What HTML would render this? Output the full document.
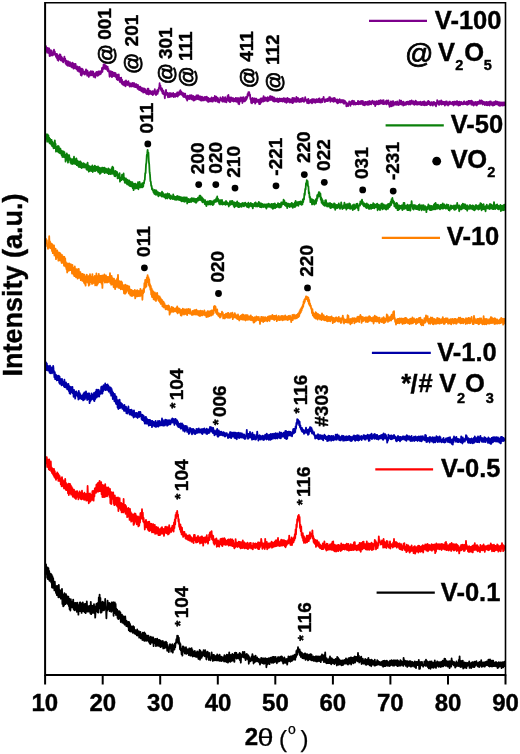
<!DOCTYPE html>
<html><head><meta charset="utf-8"><style>
html,body{margin:0;padding:0;background:#fff;}
svg{display:block;filter:blur(0.35px);}
text{stroke:#000;stroke-width:0.4px;}
text[font-weight=normal]{stroke-width:0.25px;}
text.at{stroke-width:0.75px;}
</style></head><body>
<svg width="520" height="754" viewBox="0 0 520 754" font-family="Liberation Sans, sans-serif">
<rect width="520" height="754" fill="#fff"/>
<polyline points="45.60,50.6 46.00,46.2 46.40,51.5 46.80,48.8 47.20,52.8 47.60,48.0 48.00,52.1 48.40,48.3 48.80,53.3 49.20,48.5 49.60,56.0 50.00,51.4 50.40,55.8 50.80,50.2 51.20,54.5 51.60,50.6 52.00,55.5 52.40,52.1 52.80,55.4 53.20,52.1 53.60,53.5 54.00,49.7 54.40,54.6 54.80,51.5 55.20,54.8 55.60,54.5 56.00,56.9 56.40,53.8 56.80,58.1 57.20,54.2 57.60,59.9 58.00,55.6 58.40,60.8 58.80,55.8 59.20,59.3 59.60,54.5 60.00,56.9 60.40,54.6 60.80,60.4 61.20,56.4 61.60,60.0 62.00,57.5 62.40,61.3 62.80,58.7 63.20,62.4 63.60,58.6 64.00,60.0 64.40,56.6 64.80,61.0 65.20,58.7 65.60,63.6 66.00,60.5 66.40,64.7 66.80,60.8 67.20,65.3 67.60,61.7 68.00,65.8 68.40,61.5 68.80,64.8 69.20,62.3 69.60,66.1 70.00,62.2 70.40,65.8 70.80,63.4 71.20,66.8 71.60,63.4 72.00,67.5 72.40,62.7 72.80,66.0 73.20,63.4 73.60,68.7 74.00,64.2 74.40,67.3 74.80,63.8 75.20,68.5 75.60,64.0 76.00,68.4 76.40,66.3 76.80,69.4 77.20,66.5 77.60,70.9 78.00,66.8 78.40,69.7 78.80,68.1 79.20,71.8 79.60,67.0 80.00,71.1 80.40,68.1 80.80,75.0 81.20,70.8 81.60,75.7 82.00,68.7 82.40,72.9 82.80,69.3 83.20,73.9 83.60,71.3 84.00,73.4 84.40,71.7 84.80,74.5 85.20,71.7 85.60,73.1 86.00,69.4 86.40,74.0 86.80,70.2 87.20,75.6 87.60,71.0 88.00,74.7 88.40,73.0 88.80,77.0 89.20,72.3 89.60,75.5 90.00,71.9 90.40,75.4 90.80,71.1 91.20,75.4 91.60,71.6 92.00,75.0 92.40,71.5 92.80,75.1 93.20,71.7 93.60,76.9 94.00,73.3 94.40,76.6 94.80,74.6 95.20,77.7 95.60,72.9 96.00,75.1 96.40,72.0 96.80,75.5 97.20,72.6 97.60,75.8 98.00,71.7 98.40,75.3 98.80,71.4 99.20,74.7 99.60,71.5 100.00,74.3 100.40,71.5 100.80,73.9 101.20,70.8 101.60,72.5 102.00,68.0 102.40,71.9 102.80,67.5 103.20,68.8 103.60,64.4 104.00,68.8 104.40,64.4 104.80,68.2 105.20,65.1 105.60,69.0 106.00,65.6 106.40,68.6 106.80,66.9 107.20,70.2 107.60,66.7 108.00,71.3 108.40,68.9 108.80,71.6 109.20,72.0 109.60,76.8 110.00,71.2 110.40,74.7 110.80,71.4 111.20,76.2 111.60,71.7 112.00,77.1 112.40,72.0 112.80,75.3 113.20,72.7 113.60,76.1 114.00,72.7 114.40,76.3 114.80,72.9 115.20,75.9 115.60,73.2 116.00,77.3 116.40,75.4 116.80,79.3 117.20,74.7 117.60,80.0 118.00,76.0 118.40,79.2 118.80,74.5 119.20,80.5 119.60,79.4 120.00,82.0 120.40,77.8 120.80,80.8 121.20,77.7 121.60,83.3 122.00,79.6 122.40,84.5 122.80,82.1 123.20,84.4 123.60,81.9 124.00,85.4 124.40,81.3 124.80,85.5 125.20,82.3 125.60,86.3 126.00,80.4 126.40,84.6 126.80,81.6 127.20,85.0 127.60,82.3 128.00,84.9 128.40,81.2 128.80,85.2 129.20,83.0 129.60,86.7 130.00,83.4 130.40,86.4 130.80,83.4 131.20,86.5 131.60,83.9 132.00,86.0 132.40,83.0 132.80,86.3 133.20,83.5 133.60,86.5 134.00,83.0 134.40,86.9 134.80,84.1 135.20,87.2 135.60,84.5 136.00,87.2 136.40,84.2 136.80,87.3 137.20,85.4 137.60,88.8 138.00,85.0 138.40,88.8 138.80,87.3 139.20,90.2 139.60,86.6 140.00,89.6 140.40,86.7 140.80,90.6 141.20,88.6 141.60,91.3 142.00,87.9 142.40,91.2 142.80,89.2 143.20,92.6 143.60,88.5 144.00,90.8 144.40,88.6 144.80,92.3 145.20,89.2 145.60,92.8 146.00,90.3 146.40,93.8 146.80,90.8 147.20,94.2 147.60,88.7 148.00,91.3 148.40,88.6 148.80,94.5 149.20,90.8 149.60,93.8 150.00,90.6 150.40,93.2 150.80,91.4 151.20,94.2 151.60,92.0 152.00,94.4 152.40,91.2 152.80,95.2 153.20,91.9 153.60,94.1 154.00,90.9 154.40,92.9 154.80,89.1 155.20,93.9 155.60,91.5 156.00,95.1 156.40,91.3 156.80,93.2 157.20,90.2 157.60,93.9 158.00,89.8 158.40,91.7 158.80,87.8 159.20,88.5 159.60,83.2 160.00,88.2 160.40,85.3 160.80,89.8 161.20,88.0 161.60,91.2 162.00,88.4 162.40,93.3 162.80,90.1 163.20,94.2 163.60,90.9 164.00,94.1 164.40,93.3 164.80,98.3 165.20,94.1 165.60,94.6 166.00,89.8 166.40,93.1 166.80,92.6 167.20,95.5 167.60,92.9 168.00,97.3 168.40,93.4 168.80,96.9 169.20,93.4 169.60,97.1 170.00,92.8 170.40,96.6 170.80,94.2 171.20,96.7 171.60,93.5 172.00,96.0 172.40,93.8 172.80,96.0 173.20,93.0 173.60,97.2 174.00,94.6 174.40,96.7 174.80,94.0 175.20,96.8 175.60,94.2 176.00,96.0 176.40,93.4 176.80,96.0 177.20,92.3 177.60,96.7 178.00,92.5 178.40,95.6 178.80,92.5 179.20,94.9 179.60,91.2 180.00,94.5 180.40,90.1 180.80,93.2 181.20,91.7 181.60,94.7 182.00,92.4 182.40,95.4 182.80,93.5 183.20,96.7 183.60,93.2 184.00,97.1 184.40,94.2 184.80,96.8 185.20,93.7 185.60,97.7 186.00,96.0 186.40,99.0 186.80,96.9 187.20,100.7 187.60,95.7 188.00,99.2 188.40,96.2 188.80,98.9 189.20,95.8 189.60,99.2 190.00,95.2 190.40,98.7 190.80,95.8 191.20,99.0 191.60,95.1 192.00,99.5 192.40,96.8 192.80,99.6 193.20,95.9 193.60,100.7 194.00,97.2 194.40,100.3 194.80,96.7 195.20,99.6 195.60,96.8 196.00,99.5 196.40,95.3 196.80,98.7 197.20,95.7 197.60,99.2 198.00,95.1 198.40,99.4 198.80,96.0 199.20,99.3 199.60,96.9 200.00,100.0 200.40,96.5 200.80,100.5 201.20,97.4 201.60,100.7 202.00,96.7 202.40,100.4 202.80,97.3 203.20,100.3 203.60,98.3 204.00,100.4 204.40,97.2 204.80,99.9 205.20,96.9 205.60,99.7 206.00,97.9 206.40,100.6 206.80,96.7 207.20,100.0 207.60,97.8 208.00,101.9 208.40,97.9 208.80,101.9 209.20,98.8 209.60,100.0 210.00,98.7 210.40,101.4 210.80,98.5 211.20,100.6 211.60,97.4 212.00,101.6 212.40,98.5 212.80,101.7 213.20,97.8 213.60,100.6 214.00,97.7 214.40,99.2 214.80,96.0 215.20,101.3 215.60,98.3 216.00,100.1 216.40,96.6 216.80,101.0 217.20,97.6 217.60,101.8 218.00,98.1 218.40,102.0 218.80,99.4 219.20,102.6 219.60,100.0 220.00,100.6 220.40,97.3 220.80,99.5 221.20,98.8 221.60,100.7 222.00,98.5 222.40,101.7 222.80,96.9 223.20,101.6 223.60,98.0 224.00,101.0 224.40,98.2 224.80,101.9 225.20,97.2 225.60,101.8 226.00,99.4 226.40,102.3 226.80,98.4 227.20,100.6 227.60,95.9 228.00,98.9 228.40,94.8 228.80,101.0 229.20,97.1 229.60,102.0 230.00,98.2 230.40,102.0 230.80,97.3 231.20,100.5 231.60,97.6 232.00,100.9 232.40,98.2 232.80,101.0 233.20,98.2 233.60,101.5 234.00,98.9 234.40,101.2 234.80,99.0 235.20,101.4 235.60,98.0 236.00,101.4 236.40,98.2 236.80,101.9 237.20,98.7 237.60,101.3 238.00,98.0 238.40,103.6 238.80,99.6 239.20,104.3 239.60,98.5 240.00,101.7 240.40,97.3 240.80,100.8 241.20,98.3 241.60,100.0 242.00,97.5 242.40,103.0 242.80,98.4 243.20,99.8 243.60,97.1 244.00,101.3 244.40,99.4 244.80,101.4 245.20,98.2 245.60,100.5 246.00,96.8 246.40,99.7 246.80,97.4 247.20,97.9 247.60,94.0 248.00,95.8 248.40,92.1 248.80,95.4 249.20,92.1 249.60,95.3 250.00,94.5 250.40,99.2 250.80,98.5 251.20,102.9 251.60,101.2 252.00,103.4 252.40,98.0 252.80,101.6 253.20,98.9 253.60,102.1 254.00,98.3 254.40,100.8 254.80,98.4 255.20,103.7 255.60,100.0 256.00,102.4 256.40,98.6 256.80,101.5 257.20,100.5 257.60,101.6 258.00,99.9 258.40,102.3 258.80,99.6 259.20,104.1 259.60,101.7 260.00,104.1 260.40,98.7 260.80,102.9 261.20,98.5 261.60,102.0 262.00,98.3 262.40,101.2 262.80,98.2 263.20,101.6 263.60,96.1 264.00,99.7 264.40,98.9 264.80,101.2 265.20,97.3 265.60,100.0 266.00,98.0 266.40,100.1 266.80,98.7 267.20,101.3 267.60,97.1 268.00,101.2 268.40,97.8 268.80,100.7 269.20,97.3 269.60,99.3 270.00,96.2 270.40,100.0 270.80,96.1 271.20,99.4 271.60,96.9 272.00,100.1 272.40,96.6 272.80,100.9 273.20,99.2 273.60,101.3 274.00,97.4 274.40,101.7 274.80,98.1 275.20,101.3 275.60,99.5 276.00,100.4 276.40,99.3 276.80,101.4 277.20,98.3 277.60,101.9 278.00,98.9 278.40,102.1 278.80,99.0 279.20,101.4 279.60,98.5 280.00,101.3 280.40,100.2 280.80,101.1 281.20,98.7 281.60,100.5 282.00,99.2 282.40,101.6 282.80,98.7 283.20,99.9 283.60,98.1 284.00,101.5 284.40,98.3 284.80,102.0 285.20,99.7 285.60,101.2 286.00,98.5 286.40,102.8 286.80,98.8 287.20,102.0 287.60,98.0 288.00,101.8 288.40,99.2 288.80,100.9 289.20,98.9 289.60,102.5 290.00,99.3 290.40,101.4 290.80,99.4 291.20,102.7 291.60,99.4 292.00,101.1 292.40,97.9 292.80,103.2 293.20,99.6 293.60,102.0 294.00,98.0 294.40,101.0 294.80,100.0 295.20,101.8 295.60,98.3 296.00,101.1 296.40,97.0 296.80,102.0 297.20,98.4 297.60,101.2 298.00,97.8 298.40,100.5 298.80,99.0 299.20,102.2 299.60,99.3 300.00,101.3 300.40,99.0 300.80,101.8 301.20,98.7 301.60,101.6 302.00,98.3 302.40,101.2 302.80,97.8 303.20,100.7 303.60,100.7 304.00,101.9 304.40,101.1 304.80,100.1 305.20,97.1 305.60,100.6 306.00,99.4 306.40,101.1 306.80,100.8 307.20,103.1 307.60,99.3 308.00,100.9 308.40,99.0 308.80,103.3 309.20,101.1 309.60,102.7 310.00,100.5 310.40,102.4 310.80,99.9 311.20,101.1 311.60,99.5 312.00,103.3 312.40,99.2 312.80,102.6 313.20,99.4 313.60,101.0 314.00,99.2 314.40,102.2 314.80,100.6 315.20,102.8 315.60,99.7 316.00,102.3 316.40,99.2 316.80,101.9 317.20,99.4 317.60,102.0 318.00,99.3 318.40,101.6 318.80,98.7 319.20,102.3 319.60,98.5 320.00,101.7 320.40,99.7 320.80,102.7 321.20,100.7 321.60,101.6 322.00,98.9 322.40,102.2 322.80,98.7 323.20,99.7 323.60,96.9 324.00,99.4 324.40,99.7 324.80,102.0 325.20,100.3 325.60,101.4 326.00,99.2 326.40,100.5 326.80,100.0 327.20,101.2 327.60,98.6 328.00,101.0 328.40,99.1 328.80,99.9 329.20,97.2 329.60,100.3 330.00,97.2 330.40,101.9 330.80,98.3 331.20,100.9 331.60,98.5 332.00,100.9 332.40,98.7 332.80,101.4 333.20,98.4 333.60,101.9 334.00,97.8 334.40,101.4 334.80,98.2 335.20,101.2 335.60,99.3 336.00,101.5 336.40,99.9 336.80,102.7 337.20,99.3 337.60,103.3 338.00,100.1 338.40,102.8 338.80,100.0 339.20,101.8 339.60,99.2 340.00,102.3 340.40,100.1 340.80,102.6 341.20,100.5 341.60,102.2 342.00,100.0 342.40,102.2 342.80,100.3 343.20,103.2 343.60,100.1 344.00,103.8 344.40,100.6 344.80,102.9 345.20,101.2 345.60,103.1 346.00,102.4 346.40,106.3 346.80,102.9 347.20,103.9 347.60,103.5 348.00,106.2 348.40,104.2 348.80,104.4 349.20,101.4 349.60,104.0 350.00,103.3 350.40,105.9 350.80,101.8 351.20,103.7 351.60,101.1 352.00,104.2 352.40,100.6 352.80,103.5 353.20,102.5 353.60,104.6 354.00,101.0 354.40,104.0 354.80,102.6 355.20,104.5 355.60,102.7 356.00,104.4 356.40,102.8 356.80,104.2 357.20,102.7 357.60,104.0 358.00,100.8 358.40,104.3 358.80,101.3 359.20,104.1 359.60,102.3 360.00,103.9 360.40,101.3 360.80,104.2 361.20,100.8 361.60,103.6 362.00,101.6 362.40,104.1 362.80,100.8 363.20,105.2 363.60,101.9 364.00,104.0 364.40,102.8 364.80,105.4 365.20,102.0 365.60,104.4 366.00,102.0 366.40,103.2 366.80,102.7 367.20,104.9 367.60,101.7 368.00,104.7 368.40,102.6 368.80,104.9 369.20,101.0 369.60,104.0 370.00,101.8 370.40,104.2 370.80,101.5 371.20,104.4 371.60,101.8 372.00,102.6 372.40,100.6 372.80,102.9 373.20,101.7 373.60,104.2 374.00,101.3 374.40,104.0 374.80,101.7 375.20,106.2 375.60,103.1 376.00,104.1 376.40,101.1 376.80,104.4 377.20,101.4 377.60,104.2 378.00,102.0 378.40,104.3 378.80,100.6 379.20,104.2 379.60,102.0 380.00,103.9 380.40,100.1 380.80,102.2 381.20,101.2 381.60,103.3 382.00,100.5 382.40,103.8 382.80,100.7 383.20,104.1 383.60,100.2 384.00,104.2 384.40,101.8 384.80,103.8 385.20,102.2 385.60,103.7 386.00,100.8 386.40,104.3 386.80,100.5 387.20,103.7 387.60,101.0 388.00,103.7 388.40,100.3 388.80,104.7 389.20,102.7 389.60,106.8 390.00,102.8 390.40,104.0 390.80,101.5 391.20,106.3 391.60,103.2 392.00,106.1 392.40,101.4 392.80,104.8 393.20,101.2 393.60,105.5 394.00,102.8 394.40,104.1 394.80,102.5 395.20,104.6 395.60,101.8 396.00,104.7 396.40,102.4 396.80,104.9 397.20,101.3 397.60,104.2 398.00,102.4 398.40,105.1 398.80,102.2 399.20,104.7 399.60,100.2 400.00,104.3 400.40,101.5 400.80,104.1 401.20,100.6 401.60,104.6 402.00,102.0 402.40,104.4 402.80,101.9 403.20,105.6 403.60,101.7 404.00,104.5 404.40,103.1 404.80,105.2 405.20,102.9 405.60,104.5 406.00,102.2 406.40,104.6 406.80,101.8 407.20,104.0 407.60,101.6 408.00,103.0 408.40,102.5 408.80,104.6 409.20,101.5 409.60,103.8 410.00,101.0 410.40,104.5 410.80,101.5 411.20,103.5 411.60,100.4 412.00,103.9 412.40,101.9 412.80,103.7 413.20,101.1 413.60,104.4 414.00,101.7 414.40,104.8 414.80,102.2 415.20,104.2 415.60,100.7 416.00,104.4 416.40,101.3 416.80,104.7 417.20,102.3 417.60,104.6 418.00,102.1 418.40,104.4 418.80,102.2 419.20,104.1 419.60,102.5 420.00,104.5 420.40,101.6 420.80,104.9 421.20,102.9 421.60,105.1 422.00,102.1 422.40,103.7 422.80,101.9 423.20,105.0 423.60,101.7 424.00,104.9 424.40,101.5 424.80,105.4 425.20,102.2 425.60,103.8 426.00,102.7 426.40,105.1 426.80,102.3 427.20,104.9 427.60,101.3 428.00,104.2 428.40,100.8 428.80,104.0 429.20,101.6 429.60,104.6 430.00,102.8 430.40,105.3 430.80,102.3 431.20,104.9 431.60,102.2 432.00,104.3 432.40,103.3 432.80,105.7 433.20,102.2 433.60,104.3 434.00,102.0 434.40,104.3 434.80,102.7 435.20,105.0 435.60,102.9 436.00,106.3 436.40,103.2 436.80,103.5 437.20,100.2 437.60,102.0 438.00,102.1 438.40,104.7 438.80,101.4 439.20,104.8 439.60,101.1 440.00,104.1 440.40,102.0 440.80,103.7 441.20,100.3 441.60,104.7 442.00,101.4 442.40,104.1 442.80,101.7 443.20,104.2 443.60,102.0 444.00,103.3 444.40,101.9 444.80,105.7 445.20,103.0 445.60,104.7 446.00,101.4 446.40,104.5 446.80,101.5 447.20,103.4 447.60,102.6 448.00,105.5 448.40,102.8 448.80,104.7 449.20,101.6 449.60,104.4 450.00,101.6 450.40,103.9 450.80,102.9 451.20,103.8 451.60,102.7 452.00,104.4 452.40,101.8 452.80,104.5 453.20,102.1 453.60,105.5 454.00,101.7 454.40,104.5 454.80,101.7 455.20,104.4 455.60,102.2 456.00,104.6 456.40,101.4 456.80,104.7 457.20,101.2 457.60,104.3 458.00,102.5 458.40,105.6 458.80,101.9 459.20,104.8 459.60,101.6 460.00,105.4 460.40,102.5 460.80,104.3 461.20,102.0 461.60,104.2 462.00,102.9 462.40,104.3 462.80,102.9 463.20,104.4 463.60,101.6 464.00,103.7 464.40,101.5 464.80,104.1 465.20,102.4 465.60,104.2 466.00,102.6 466.40,104.3 466.80,101.7 467.20,104.9 467.60,103.0 468.00,104.2 468.40,101.0 468.80,104.3 469.20,101.2 469.60,103.2 470.00,100.9 470.40,103.1 470.80,101.2 471.20,104.6 471.60,100.7 472.00,104.8 472.40,101.3 472.80,104.3 473.20,102.5 473.60,105.6 474.00,102.2 474.40,104.6 474.80,102.8 475.20,104.8 475.60,101.9 476.00,104.6 476.40,102.4 476.80,105.5 477.20,101.9 477.60,104.4 478.00,102.1 478.40,103.8 478.80,101.7 479.20,103.6 479.60,100.5 480.00,103.9 480.40,102.5 480.80,103.3 481.20,100.3 481.60,101.5 482.00,100.7 482.40,104.5 482.80,101.5 483.20,103.4 483.60,101.8 484.00,104.4 484.40,102.1 484.80,105.1 485.20,102.4 485.60,104.6 486.00,102.1 486.40,105.0 486.80,102.0 487.20,105.3 487.60,102.3 488.00,105.0 488.40,102.2 488.80,104.5 489.20,101.8 489.60,105.6 490.00,101.4 490.40,104.4 490.80,101.3 491.20,104.4 491.60,102.4 492.00,105.1 492.40,102.3 492.80,105.6 493.20,102.7 493.60,105.3 494.00,102.0 494.40,105.1 494.80,101.9 495.20,104.1 495.60,101.2 496.00,104.5 496.40,101.6 496.80,104.2 497.20,101.7 497.60,104.0 498.00,102.1 498.40,105.3 498.80,102.2 499.20,105.3 499.60,102.4 500.00,106.0 500.40,102.6 500.80,104.3 501.20,102.3 501.60,105.3 502.00,103.0 502.40,105.5 502.80,102.4 503.20,105.4 503.60,102.7 504.00,105.3 504.40,102.4 504.80,106.0" fill="none" stroke="#7d008c" stroke-width="1.8" stroke-linejoin="round"/>
<polyline points="45.60,137.2 46.00,134.2 46.40,138.8 46.80,137.2 47.20,141.8 47.60,134.4 48.00,140.4 48.40,135.4 48.80,141.8 49.20,137.7 49.60,143.3 50.00,138.7 50.40,143.1 50.80,139.7 51.20,144.6 51.60,140.0 52.00,145.9 52.40,141.6 52.80,146.7 53.20,143.3 53.60,148.4 54.00,143.0 54.40,148.2 54.80,140.3 55.20,145.2 55.60,143.8 56.00,151.7 56.40,146.6 56.80,148.7 57.20,147.1 57.60,151.3 58.00,145.9 58.40,152.2 58.80,146.5 59.20,152.8 59.60,148.1 60.00,153.3 60.40,148.6 60.80,153.5 61.20,150.4 61.60,155.3 62.00,150.8 62.40,157.0 62.80,154.0 63.20,155.9 63.60,151.5 64.00,157.2 64.40,152.1 64.80,156.3 65.20,154.6 65.60,161.6 66.00,157.5 66.40,159.2 66.80,153.4 67.20,159.8 67.60,154.7 68.00,162.6 68.40,156.0 68.80,158.4 69.20,155.2 69.60,160.0 70.00,158.1 70.40,162.7 70.80,158.6 71.20,163.8 71.60,159.3 72.00,161.7 72.40,160.6 72.80,164.1 73.20,158.7 73.60,162.4 74.00,156.7 74.40,163.1 74.80,158.9 75.20,164.2 75.60,160.6 76.00,163.8 76.40,158.5 76.80,165.2 77.20,160.3 77.60,165.0 78.00,161.7 78.40,166.5 78.80,161.5 79.20,167.1 79.60,163.1 80.00,165.2 80.40,161.4 80.80,167.3 81.20,162.5 81.60,168.0 82.00,163.3 82.40,167.5 82.80,163.6 83.20,167.4 83.60,163.2 84.00,167.3 84.40,163.8 84.80,167.5 85.20,164.6 85.60,167.1 86.00,164.5 86.40,169.3 86.80,164.1 87.20,169.9 87.60,162.7 88.00,169.7 88.40,165.5 88.80,171.6 89.20,166.2 89.60,171.0 90.00,166.3 90.40,170.5 90.80,167.8 91.20,171.1 91.60,166.3 92.00,169.8 92.40,165.3 92.80,172.0 93.20,166.8 93.60,170.7 94.00,166.7 94.40,170.8 94.80,165.7 95.20,171.2 95.60,166.5 96.00,170.3 96.40,167.0 96.80,169.9 97.20,167.5 97.60,171.2 98.00,166.4 98.40,172.4 98.80,167.6 99.20,172.1 99.60,167.6 100.00,173.9 100.40,168.1 100.80,173.2 101.20,168.9 101.60,171.6 102.00,167.7 102.40,172.0 102.80,167.7 103.20,171.1 103.60,167.9 104.00,172.5 104.40,167.7 104.80,173.2 105.20,168.3 105.60,172.2 106.00,168.6 106.40,172.4 106.80,169.2 107.20,173.1 107.60,169.1 108.00,173.4 108.40,168.4 108.80,174.1 109.20,169.2 109.60,172.8 110.00,170.1 110.40,174.1 110.80,169.8 111.20,173.0 111.60,168.2 112.00,173.9 112.40,166.7 112.80,172.3 113.20,167.5 113.60,173.9 114.00,171.0 114.40,176.0 114.80,171.9 115.20,176.4 115.60,170.8 116.00,174.4 116.40,172.0 116.80,175.7 117.20,172.2 117.60,178.4 118.00,174.9 118.40,177.7 118.80,174.1 119.20,178.3 119.60,173.2 120.00,181.6 120.40,177.5 120.80,180.3 121.20,177.4 121.60,180.2 122.00,174.7 122.40,179.0 122.80,175.0 123.20,179.2 123.60,173.5 124.00,180.3 124.40,177.7 124.80,182.8 125.20,179.3 125.60,182.5 126.00,178.5 126.40,183.5 126.80,179.5 127.20,184.5 127.60,179.8 128.00,183.2 128.40,182.6 128.80,185.0 129.20,180.3 129.60,185.9 130.00,181.7 130.40,186.2 130.80,181.6 131.20,186.5 131.60,182.3 132.00,186.1 132.40,182.2 132.80,188.1 133.20,184.7 133.60,190.1 134.00,183.6 134.40,187.9 134.80,185.7 135.20,188.6 135.60,183.6 136.00,187.3 136.40,185.3 136.80,188.3 137.20,184.4 137.60,187.6 138.00,182.2 138.40,189.3 138.80,183.5 139.20,187.7 139.60,181.9 140.00,184.3 140.40,184.2 140.80,187.5 141.20,185.1 141.60,186.5 142.00,183.5 142.40,187.3 142.80,183.1 143.20,186.6 143.60,182.6 144.00,183.5 144.40,180.4 144.80,179.8 145.20,173.2 145.60,173.1 146.00,164.6 146.40,162.5 146.80,155.1 147.20,153.7 147.60,149.8 148.00,154.2 148.40,152.6 148.80,161.1 149.20,164.3 149.60,172.2 150.00,174.6 150.40,181.1 150.80,181.7 151.20,186.0 151.60,185.8 152.00,189.4 152.40,188.5 152.80,190.7 153.20,190.0 153.60,192.6 154.00,190.3 154.40,193.8 154.80,189.9 155.20,194.3 155.60,191.1 156.00,194.9 156.40,190.3 156.80,193.7 157.20,191.8 157.60,194.8 158.00,192.2 158.40,196.3 158.80,194.1 159.20,195.5 159.60,193.0 160.00,195.0 160.40,193.7 160.80,195.5 161.20,192.9 161.60,196.5 162.00,191.7 162.40,196.1 162.80,192.7 163.20,196.9 163.60,193.9 164.00,196.7 164.40,195.7 164.80,197.3 165.20,194.3 165.60,198.5 166.00,194.1 166.40,197.8 166.80,195.0 167.20,198.5 167.60,193.5 168.00,197.4 168.40,194.8 168.80,197.4 169.20,194.0 169.60,198.4 170.00,195.6 170.40,199.0 170.80,195.4 171.20,198.5 171.60,196.3 172.00,198.1 172.40,196.8 172.80,199.1 173.20,194.5 173.60,198.1 174.00,196.2 174.40,199.5 174.80,196.8 175.20,199.4 175.60,196.8 176.00,200.0 176.40,196.7 176.80,199.5 177.20,196.0 177.60,199.5 178.00,197.8 178.40,199.6 178.80,196.3 179.20,200.1 179.60,196.8 180.00,199.4 180.40,197.1 180.80,200.7 181.20,197.3 181.60,201.4 182.00,197.5 182.40,199.9 182.80,198.4 183.20,201.3 183.60,197.5 184.00,201.3 184.40,197.4 184.80,201.9 185.20,197.3 185.60,201.0 186.00,198.1 186.40,200.3 186.80,197.3 187.20,203.5 187.60,199.0 188.00,202.1 188.40,198.8 188.80,202.0 189.20,199.6 189.60,202.0 190.00,199.2 190.40,201.9 190.80,199.0 191.20,202.0 191.60,198.1 192.00,201.3 192.40,198.3 192.80,199.2 193.20,198.5 193.60,201.4 194.00,198.4 194.40,201.9 194.80,199.6 195.20,201.9 195.60,198.8 196.00,202.8 196.40,198.8 196.80,201.8 197.20,198.7 197.60,200.6 198.00,197.6 198.40,200.5 198.80,197.4 199.20,198.9 199.60,195.7 200.00,200.1 200.40,195.6 200.80,199.5 201.20,196.9 201.60,200.9 202.00,197.5 202.40,202.3 202.80,198.5 203.20,201.7 203.60,199.5 204.00,202.3 204.40,200.7 204.80,204.2 205.20,200.2 205.60,204.7 206.00,201.6 206.40,206.1 206.80,201.8 207.20,204.7 207.60,201.5 208.00,204.2 208.40,202.9 208.80,204.6 209.20,201.1 209.60,202.9 210.00,200.9 210.40,204.5 210.80,201.2 211.20,204.3 211.60,201.5 212.00,204.1 212.40,201.5 212.80,205.2 213.20,202.1 213.60,204.3 214.00,200.4 214.40,202.7 214.80,200.1 215.20,201.9 215.60,199.5 216.00,201.8 216.40,198.2 216.80,200.8 217.20,196.5 217.60,201.1 218.00,198.6 218.40,201.8 218.80,199.8 219.20,203.9 219.60,200.6 220.00,204.5 220.40,200.1 220.80,203.8 221.20,200.7 221.60,204.1 222.00,199.8 222.40,204.6 222.80,202.3 223.20,203.5 223.60,202.4 224.00,204.4 224.40,202.3 224.80,204.0 225.20,202.2 225.60,204.9 226.00,201.0 226.40,203.9 226.80,202.1 227.20,204.3 227.60,202.7 228.00,204.1 228.40,203.5 228.80,206.5 229.20,203.2 229.60,204.6 230.00,201.2 230.40,204.9 230.80,201.4 231.20,204.4 231.60,201.2 232.00,204.2 232.40,200.8 232.80,203.9 233.20,202.3 233.60,205.9 234.00,202.1 234.40,207.3 234.80,202.7 235.20,206.3 235.60,202.9 236.00,206.0 236.40,202.5 236.80,203.9 237.20,201.4 237.60,206.6 238.00,203.7 238.40,207.2 238.80,203.0 239.20,207.2 239.60,203.6 240.00,206.6 240.40,204.1 240.80,205.8 241.20,203.6 241.60,206.8 242.00,203.5 242.40,205.6 242.80,202.8 243.20,206.0 243.60,203.8 244.00,206.3 244.40,203.2 244.80,205.1 245.20,202.7 245.60,205.4 246.00,203.9 246.40,206.2 246.80,203.6 247.20,207.1 247.60,203.6 248.00,206.8 248.40,202.6 248.80,207.7 249.20,204.8 249.60,206.2 250.00,203.7 250.40,205.7 250.80,202.8 251.20,206.3 251.60,203.9 252.00,206.0 252.40,203.8 252.80,208.3 253.20,204.7 253.60,205.8 254.00,203.9 254.40,206.1 254.80,202.8 255.20,205.2 255.60,202.4 256.00,206.7 256.40,203.8 256.80,206.2 257.20,203.4 257.60,206.5 258.00,203.4 258.40,205.3 258.80,202.0 259.20,206.4 259.60,202.6 260.00,207.2 260.40,203.6 260.80,207.0 261.20,203.4 261.60,207.3 262.00,204.0 262.40,206.7 262.80,204.1 263.20,207.0 263.60,204.8 264.00,206.3 264.40,204.4 264.80,206.9 265.20,204.7 265.60,207.3 266.00,204.3 266.40,208.7 266.80,204.3 267.20,206.6 267.60,204.3 268.00,206.9 268.40,203.6 268.80,206.6 269.20,204.2 269.60,206.8 270.00,204.5 270.40,206.3 270.80,204.9 271.20,207.6 271.60,203.8 272.00,207.3 272.40,205.7 272.80,208.9 273.20,203.8 273.60,208.4 274.00,204.1 274.40,207.3 274.80,203.5 275.20,208.2 275.60,204.5 276.00,207.3 276.40,205.0 276.80,207.1 277.20,204.7 277.60,205.9 278.00,203.1 278.40,207.0 278.80,204.2 279.20,207.6 279.60,204.0 280.00,207.0 280.40,204.8 280.80,207.4 281.20,202.4 281.60,205.8 282.00,202.3 282.40,204.1 282.80,202.4 283.20,204.1 283.60,199.7 284.00,202.8 284.40,200.8 284.80,205.2 285.20,202.8 285.60,205.9 286.00,202.6 286.40,206.1 286.80,203.2 287.20,208.1 287.60,204.2 288.00,206.2 288.40,203.6 288.80,206.0 289.20,204.2 289.60,207.2 290.00,203.9 290.40,206.0 290.80,204.5 291.20,206.5 291.60,203.0 292.00,205.5 292.40,203.4 292.80,207.9 293.20,204.2 293.60,206.3 294.00,204.0 294.40,207.0 294.80,202.5 295.20,206.9 295.60,200.8 296.00,205.2 296.40,202.8 296.80,205.5 297.20,202.2 297.60,204.7 298.00,202.3 298.40,205.9 298.80,202.0 299.20,204.1 299.60,201.8 300.00,203.9 300.40,201.5 300.80,204.4 301.20,201.9 301.60,204.8 302.00,201.4 302.40,204.4 302.80,199.5 303.20,202.1 303.60,198.3 304.00,199.4 304.40,193.5 304.80,194.9 305.20,188.8 305.60,189.4 306.00,183.1 306.40,184.6 306.80,180.1 307.20,182.5 307.60,181.0 308.00,186.2 308.40,186.3 308.80,193.1 309.20,192.4 309.60,197.6 310.00,196.9 310.40,202.2 310.80,198.3 311.20,201.7 311.60,200.3 312.00,204.5 312.40,199.4 312.80,204.0 313.20,199.8 313.60,203.1 314.00,200.8 314.40,204.6 314.80,201.9 315.20,203.3 315.60,199.5 316.00,203.7 316.40,198.9 316.80,201.0 317.20,195.1 317.60,198.1 318.00,194.5 318.40,195.7 318.80,192.1 319.20,196.3 319.60,192.4 320.00,196.6 320.40,193.6 320.80,199.7 321.20,197.3 321.60,202.7 322.00,199.0 322.40,203.8 322.80,200.5 323.20,204.7 323.60,202.8 324.00,205.4 324.40,202.6 324.80,205.9 325.20,200.4 325.60,203.6 326.00,200.2 326.40,205.8 326.80,202.9 327.20,206.6 327.60,203.8 328.00,205.3 328.40,203.3 328.80,206.5 329.20,203.9 329.60,206.9 330.00,202.9 330.40,208.1 330.80,203.7 331.20,207.9 331.60,203.9 332.00,207.2 332.40,204.4 332.80,207.3 333.20,204.3 333.60,207.5 334.00,203.5 334.40,207.9 334.80,203.7 335.20,209.8 335.60,206.2 336.00,208.3 336.40,205.0 336.80,207.8 337.20,205.3 337.60,208.0 338.00,204.6 338.40,206.2 338.80,203.4 339.20,207.6 339.60,206.2 340.00,208.9 340.40,205.0 340.80,207.6 341.20,202.3 341.60,205.6 342.00,206.4 342.40,209.0 342.80,206.1 343.20,208.3 343.60,205.1 344.00,208.1 344.40,202.7 344.80,207.2 345.20,205.6 345.60,208.2 346.00,204.3 346.40,209.6 346.80,204.4 347.20,207.8 347.60,204.2 348.00,208.1 348.40,204.9 348.80,206.7 349.20,203.5 349.60,208.6 350.00,203.8 350.40,208.8 350.80,206.2 351.20,208.5 351.60,207.6 352.00,208.3 352.40,205.1 352.80,210.1 353.20,205.1 353.60,208.4 354.00,204.3 354.40,209.1 354.80,205.1 355.20,208.6 355.60,205.7 356.00,207.6 356.40,203.9 356.80,207.2 357.20,203.7 357.60,208.2 358.00,205.7 358.40,210.4 358.80,205.5 359.20,205.4 359.60,203.8 360.00,205.7 360.40,201.4 360.80,203.9 361.20,201.3 361.60,203.8 362.00,199.6 362.40,203.1 362.80,201.9 363.20,205.4 363.60,203.5 364.00,206.3 364.40,203.3 364.80,205.8 365.20,204.1 365.60,207.2 366.00,204.2 366.40,208.2 366.80,203.5 367.20,207.9 367.60,204.3 368.00,207.5 368.40,204.7 368.80,208.9 369.20,205.9 369.60,208.8 370.00,205.3 370.40,208.5 370.80,204.6 371.20,208.9 371.60,204.8 372.00,208.0 372.40,204.6 372.80,208.1 373.20,203.1 373.60,206.7 374.00,203.8 374.40,208.3 374.80,204.7 375.20,207.3 375.60,204.9 376.00,207.0 376.40,204.1 376.80,207.5 377.20,203.6 377.60,210.3 378.00,204.9 378.40,209.1 378.80,204.7 379.20,207.8 379.60,205.3 380.00,210.1 380.40,205.4 380.80,208.2 381.20,203.9 381.60,206.1 382.00,203.3 382.40,209.4 382.80,204.9 383.20,208.9 383.60,204.3 384.00,208.4 384.40,205.1 384.80,208.6 385.20,206.4 385.60,209.3 386.00,205.1 386.40,209.6 386.80,206.1 387.20,208.1 387.60,204.5 388.00,208.9 388.40,203.9 388.80,207.5 389.20,204.4 389.60,207.0 390.00,203.1 390.40,205.6 390.80,201.3 391.20,205.0 391.60,199.1 392.00,201.2 392.40,198.0 392.80,202.6 393.20,200.5 393.60,203.5 394.00,201.6 394.40,206.5 394.80,203.4 395.20,206.1 395.60,203.7 396.00,208.1 396.40,203.0 396.80,207.6 397.20,203.5 397.60,210.1 398.00,205.2 398.40,210.0 398.80,205.3 399.20,209.4 399.60,205.7 400.00,208.7 400.40,205.9 400.80,207.8 401.20,205.8 401.60,208.7 402.00,205.2 402.40,210.1 402.80,205.7 403.20,209.1 403.60,202.9 404.00,205.7 404.40,202.8 404.80,208.9 405.20,205.4 405.60,208.2 406.00,206.8 406.40,208.4 406.80,205.5 407.20,210.0 407.60,204.7 408.00,210.1 408.40,205.4 408.80,210.1 409.20,205.6 409.60,209.3 410.00,204.8 410.40,210.6 410.80,204.8 411.20,206.4 411.60,201.1 412.00,205.2 412.40,205.2 412.80,208.8 413.20,206.3 413.60,209.7 414.00,204.8 414.40,208.3 414.80,205.3 415.20,208.7 415.60,205.3 416.00,209.2 416.40,206.4 416.80,209.0 417.20,206.1 417.60,209.3 418.00,205.9 418.40,208.7 418.80,204.8 419.20,210.2 419.60,204.5 420.00,207.0 420.40,205.9 420.80,208.9 421.20,205.7 421.60,210.4 422.00,205.2 422.40,207.7 422.80,205.6 423.20,209.3 423.60,205.2 424.00,210.1 424.40,206.4 424.80,209.7 425.20,206.1 425.60,208.5 426.00,207.0 426.40,212.2 426.80,207.1 427.20,209.3 427.60,206.4 428.00,208.4 428.40,204.4 428.80,208.9 429.20,206.4 429.60,209.8 430.00,205.6 430.40,210.1 430.80,206.7 431.20,210.1 431.60,205.8 432.00,209.8 432.40,206.4 432.80,208.1 433.20,205.9 433.60,209.4 434.00,204.4 434.40,208.0 434.80,203.6 435.20,209.4 435.60,203.0 436.00,208.3 436.40,204.4 436.80,208.8 437.20,205.3 437.60,208.6 438.00,204.6 438.40,208.0 438.80,206.2 439.20,208.5 439.60,205.9 440.00,209.3 440.40,204.9 440.80,208.4 441.20,204.7 441.60,208.3 442.00,205.2 442.40,208.7 442.80,203.5 443.20,208.6 443.60,205.9 444.00,208.2 444.40,204.4 444.80,207.6 445.20,205.7 445.60,208.5 446.00,206.8 446.40,208.4 446.80,204.4 447.20,208.6 447.60,205.6 448.00,208.9 448.40,204.8 448.80,210.1 449.20,207.8 449.60,210.7 450.00,207.2 450.40,208.8 450.80,205.3 451.20,209.0 451.60,205.8 452.00,208.1 452.40,206.2 452.80,208.2 453.20,206.2 453.60,208.9 454.00,205.4 454.40,209.8 454.80,206.5 455.20,209.7 455.60,205.4 456.00,209.2 456.40,206.8 456.80,207.7 457.20,203.0 457.60,207.8 458.00,205.1 458.40,208.3 458.80,206.2 459.20,211.3 459.60,205.4 460.00,208.6 460.40,206.6 460.80,209.3 461.20,206.3 461.60,209.3 462.00,204.6 462.40,208.5 462.80,203.6 463.20,207.7 463.60,204.1 464.00,208.5 464.40,204.3 464.80,208.1 465.20,204.3 465.60,209.2 466.00,205.4 466.40,208.9 466.80,205.6 467.20,210.8 467.60,205.5 468.00,209.0 468.40,206.3 468.80,208.0 469.20,206.5 469.60,208.8 470.00,205.0 470.40,208.1 470.80,206.4 471.20,208.9 471.60,205.9 472.00,208.3 472.40,205.5 472.80,209.4 473.20,205.7 473.60,209.9 474.00,206.4 474.40,210.3 474.80,206.6 475.20,209.6 475.60,205.2 476.00,208.8 476.40,205.1 476.80,208.3 477.20,206.5 477.60,208.9 478.00,206.0 478.40,209.6 478.80,205.4 479.20,209.1 479.60,204.9 480.00,208.7 480.40,203.1 480.80,206.5 481.20,203.7 481.60,210.3 482.00,206.4 482.40,208.6 482.80,204.7 483.20,209.1 483.60,204.2 484.00,209.3 484.40,206.5 484.80,209.2 485.20,206.6 485.60,211.3 486.00,205.8 486.40,208.4 486.80,204.7 487.20,208.3 487.60,206.1 488.00,208.4 488.40,206.6 488.80,208.5 489.20,205.2 489.60,209.1 490.00,204.0 490.40,208.2 490.80,204.6 491.20,208.6 491.60,204.7 492.00,206.9 492.40,205.6 492.80,209.2 493.20,206.0 493.60,209.1 494.00,202.1 494.40,205.1 494.80,205.5 495.20,209.2 495.60,205.3 496.00,207.5 496.40,204.8 496.80,208.1 497.20,204.4 497.60,208.9 498.00,205.6 498.40,209.4 498.80,206.0 499.20,208.7 499.60,206.8 500.00,209.0 500.40,205.0 500.80,211.0 501.20,207.6 501.60,210.6 502.00,205.7 502.40,209.0 502.80,206.2 503.20,210.1 503.60,205.2 504.00,210.3 504.40,204.6 504.80,208.8" fill="none" stroke="#0a800a" stroke-width="1.8" stroke-linejoin="round"/>
<polyline points="45.60,242.5 46.00,238.9 46.40,243.3 46.80,240.1 47.20,246.3 47.60,244.8 48.00,248.8 48.40,244.3 48.80,245.5 49.20,236.2 49.60,247.6 50.00,241.5 50.40,248.0 50.80,243.4 51.20,248.6 51.60,243.7 52.00,251.0 52.40,244.4 52.80,253.1 53.20,245.7 53.60,253.0 54.00,245.4 54.40,255.5 54.80,248.9 55.20,255.3 55.60,248.7 56.00,259.1 56.40,250.3 56.80,257.1 57.20,250.3 57.60,257.5 58.00,252.9 58.40,260.7 58.80,252.3 59.20,260.5 59.60,252.9 60.00,258.1 60.40,253.3 60.80,260.6 61.20,257.9 61.60,263.0 62.00,255.0 62.40,262.0 62.80,257.4 63.20,263.0 63.60,256.6 64.00,265.7 64.40,257.0 64.80,265.9 65.20,258.4 65.60,266.7 66.00,262.2 66.40,269.0 66.80,265.3 67.20,272.5 67.60,263.3 68.00,269.8 68.40,266.2 68.80,270.9 69.20,263.4 69.60,268.9 70.00,264.5 70.40,270.2 70.80,264.1 71.20,269.0 71.60,266.4 72.00,273.5 72.40,264.8 72.80,270.6 73.20,267.7 73.60,274.6 74.00,268.4 74.40,276.2 74.80,266.5 75.20,272.6 75.60,269.6 76.00,277.3 76.40,269.1 76.80,275.3 77.20,271.7 77.60,278.6 78.00,269.2 78.40,277.3 78.80,269.0 79.20,277.9 79.60,271.8 80.00,276.3 80.40,272.1 80.80,280.2 81.20,274.2 81.60,278.1 82.00,273.9 82.40,280.9 82.80,273.8 83.20,279.9 83.60,277.3 84.00,282.8 84.40,274.7 84.80,283.8 85.20,276.1 85.60,285.7 86.00,279.3 86.40,282.2 86.80,274.6 87.20,281.7 87.60,276.2 88.00,282.8 88.40,278.8 88.80,285.7 89.20,275.7 89.60,284.4 90.00,274.2 90.40,280.0 90.80,276.4 91.20,282.0 91.60,280.2 92.00,284.0 92.40,274.1 92.80,283.7 93.20,277.2 93.60,280.8 94.00,276.9 94.40,282.9 94.80,275.9 95.20,285.4 95.60,276.8 96.00,283.8 96.40,273.4 96.80,285.4 97.20,275.9 97.60,284.3 98.00,277.6 98.40,282.9 98.80,273.8 99.20,280.6 99.60,275.7 100.00,282.1 100.40,276.2 100.80,282.3 101.20,275.7 101.60,283.6 102.00,277.8 102.40,287.9 102.80,275.5 103.20,280.8 103.60,277.0 104.00,280.4 104.40,274.5 104.80,282.5 105.20,275.3 105.60,282.4 106.00,275.5 106.40,282.3 106.80,278.4 107.20,282.5 107.60,276.8 108.00,282.2 108.40,277.2 108.80,281.9 109.20,277.0 109.60,279.8 110.00,273.2 110.40,283.2 110.80,276.7 111.20,284.8 111.60,275.8 112.00,282.4 112.40,277.9 112.80,284.5 113.20,278.8 113.60,287.0 114.00,278.6 114.40,287.5 114.80,280.4 115.20,289.1 115.60,281.4 116.00,286.9 116.40,279.9 116.80,286.9 117.20,278.3 117.60,284.9 118.00,274.8 118.40,287.6 118.80,282.3 119.20,288.0 119.60,281.1 120.00,287.8 120.40,282.3 120.80,289.3 121.20,281.3 121.60,288.9 122.00,282.2 122.40,289.3 122.80,284.8 123.20,289.1 123.60,285.4 124.00,293.3 124.40,285.9 124.80,293.6 125.20,284.6 125.60,293.5 126.00,285.2 126.40,292.1 126.80,286.5 127.20,290.5 127.60,285.7 128.00,290.6 128.40,286.4 128.80,293.4 129.20,286.3 129.60,293.9 130.00,289.2 130.40,295.5 130.80,290.0 131.20,295.2 131.60,289.8 132.00,296.1 132.40,290.6 132.80,295.7 133.20,290.8 133.60,294.5 134.00,291.0 134.40,295.6 134.80,289.9 135.20,298.4 135.60,293.1 136.00,296.8 136.40,291.0 136.80,295.6 137.20,290.2 137.60,296.3 138.00,293.0 138.40,296.2 138.80,290.8 139.20,295.9 139.60,291.4 140.00,296.3 140.40,288.9 140.80,294.3 141.20,290.8 141.60,295.8 142.00,290.5 142.40,299.8 142.80,291.6 143.20,293.4 143.60,288.6 144.00,292.1 144.40,283.1 144.80,287.2 145.20,280.0 145.60,287.5 146.00,279.6 146.40,286.4 146.80,277.3 147.20,282.1 147.60,275.1 148.00,281.4 148.40,277.1 148.80,285.0 149.20,279.2 149.60,286.7 150.00,284.2 150.40,289.8 150.80,286.0 151.20,294.4 151.60,288.4 152.00,296.9 152.40,290.1 152.80,297.1 153.20,291.4 153.60,299.1 154.00,293.3 154.40,299.8 154.80,292.4 155.20,299.7 155.60,294.8 156.00,301.0 156.40,293.3 156.80,297.6 157.20,292.9 157.60,298.6 158.00,295.7 158.40,300.3 158.80,296.8 159.20,301.3 159.60,296.3 160.00,302.4 160.40,298.0 160.80,303.9 161.20,299.1 161.60,302.9 162.00,300.0 162.40,306.3 162.80,301.2 163.20,306.8 163.60,301.8 164.00,307.5 164.40,303.2 164.80,306.1 165.20,305.2 165.60,309.4 166.00,306.5 166.40,308.6 166.80,305.7 167.20,309.5 167.60,307.4 168.00,309.7 168.40,305.5 168.80,310.1 169.20,306.1 169.60,314.7 170.00,309.7 170.40,312.8 170.80,308.5 171.20,311.4 171.60,306.8 172.00,311.8 172.40,307.3 172.80,311.5 173.20,307.7 173.60,311.8 174.00,308.5 174.40,310.9 174.80,308.9 175.20,311.3 175.60,308.7 176.00,311.2 176.40,307.7 176.80,312.1 177.20,306.4 177.60,313.4 178.00,308.0 178.40,311.9 178.80,308.7 179.20,312.7 179.60,308.7 180.00,312.6 180.40,312.7 180.80,315.3 181.20,310.0 181.60,315.7 182.00,311.5 182.40,314.0 182.80,308.6 183.20,312.7 183.60,309.5 184.00,314.6 184.40,309.4 184.80,313.4 185.20,309.5 185.60,314.0 186.00,310.3 186.40,314.0 186.80,309.2 187.20,315.2 187.60,310.2 188.00,312.8 188.40,309.0 188.80,313.2 189.20,309.7 189.60,313.6 190.00,309.1 190.40,313.5 190.80,312.2 191.20,314.1 191.60,312.7 192.00,315.2 192.40,310.8 192.80,313.6 193.20,311.5 193.60,314.7 194.00,310.4 194.40,313.6 194.80,310.2 195.20,314.7 195.60,310.1 196.00,314.0 196.40,309.6 196.80,314.7 197.20,310.8 197.60,313.9 198.00,311.0 198.40,315.4 198.80,311.3 199.20,315.7 199.60,311.1 200.00,316.1 200.40,310.6 200.80,314.9 201.20,312.9 201.60,315.4 202.00,311.0 202.40,315.4 202.80,311.3 203.20,314.9 203.60,311.6 204.00,314.4 204.40,310.4 204.80,315.3 205.20,312.4 205.60,315.0 206.00,312.6 206.40,317.2 206.80,312.2 207.20,315.5 207.60,311.2 208.00,316.8 208.40,311.5 208.80,316.3 209.20,311.4 209.60,316.2 210.00,311.5 210.40,315.1 210.80,310.9 211.20,315.6 211.60,310.3 212.00,313.6 212.40,310.6 212.80,314.8 213.20,310.4 213.60,313.4 214.00,306.4 214.40,310.4 214.80,305.9 215.20,308.8 215.60,306.8 216.00,312.7 216.40,309.4 216.80,314.0 217.20,309.5 217.60,314.6 218.00,313.7 218.40,315.9 218.80,313.2 219.20,316.5 219.60,314.3 220.00,317.7 220.40,313.8 220.80,316.9 221.20,313.8 221.60,314.3 222.00,311.7 222.40,314.3 222.80,312.8 223.20,318.4 223.60,314.8 224.00,317.7 224.40,315.0 224.80,318.5 225.20,314.4 225.60,317.7 226.00,313.6 226.40,317.3 226.80,314.3 227.20,317.0 227.60,313.2 228.00,318.0 228.40,312.8 228.80,316.9 229.20,313.8 229.60,317.8 230.00,313.9 230.40,317.6 230.80,313.1 231.20,316.6 231.60,313.6 232.00,316.9 232.40,312.7 232.80,319.1 233.20,314.3 233.60,317.5 234.00,315.9 234.40,316.5 234.80,313.1 235.20,317.6 235.60,314.5 236.00,317.5 236.40,315.3 236.80,318.7 237.20,315.9 237.60,319.2 238.00,314.5 238.40,318.0 238.80,316.7 239.20,320.5 239.60,317.0 240.00,319.5 240.40,315.9 240.80,318.8 241.20,315.5 241.60,319.3 242.00,315.0 242.40,319.6 242.80,314.3 243.20,319.1 243.60,314.8 244.00,319.9 244.40,315.3 244.80,319.6 245.20,316.6 245.60,320.5 246.00,314.8 246.40,319.4 246.80,315.8 247.20,319.9 247.60,315.1 248.00,319.6 248.40,316.4 248.80,319.5 249.20,316.4 249.60,319.5 250.00,316.4 250.40,320.0 250.80,315.4 251.20,319.9 251.60,316.9 252.00,320.3 252.40,316.8 252.80,319.9 253.20,317.7 253.60,322.6 254.00,318.9 254.40,322.4 254.80,317.2 255.20,321.0 255.60,318.2 256.00,320.9 256.40,316.5 256.80,320.2 257.20,316.9 257.60,319.9 258.00,317.5 258.40,320.2 258.80,316.9 259.20,320.0 259.60,319.5 260.00,324.0 260.40,319.0 260.80,321.3 261.20,316.9 261.60,320.9 262.00,316.9 262.40,319.9 262.80,317.9 263.20,322.1 263.60,317.1 264.00,321.2 264.40,318.3 264.80,321.1 265.20,317.2 265.60,320.3 266.00,317.8 266.40,320.4 266.80,318.6 267.20,321.3 267.60,316.9 268.00,320.5 268.40,316.5 268.80,319.7 269.20,316.8 269.60,321.0 270.00,316.0 270.40,318.2 270.80,317.9 271.20,318.9 271.60,315.8 272.00,319.2 272.40,314.9 272.80,318.3 273.20,317.0 273.60,319.7 274.00,315.9 274.40,320.0 274.80,316.0 275.20,319.0 275.60,316.1 276.00,319.2 276.40,315.5 276.80,321.2 277.20,316.9 277.60,318.4 278.00,316.8 278.40,319.9 278.80,315.8 279.20,320.2 279.60,316.9 280.00,320.1 280.40,316.9 280.80,319.1 281.20,316.0 281.60,319.7 282.00,316.3 282.40,320.4 282.80,316.0 283.20,319.9 283.60,316.9 284.00,319.8 284.40,316.1 284.80,319.4 285.20,315.5 285.60,319.5 286.00,316.7 286.40,318.9 286.80,316.6 287.20,320.0 287.60,316.8 288.00,320.0 288.40,316.0 288.80,319.2 289.20,316.9 289.60,319.3 290.00,315.6 290.40,318.2 290.80,317.3 291.20,322.2 291.60,317.8 292.00,319.9 292.40,314.8 292.80,320.2 293.20,315.5 293.60,317.8 294.00,314.7 294.40,318.5 294.80,316.9 295.20,318.6 295.60,315.3 296.00,318.1 296.40,315.0 296.80,318.3 297.20,314.8 297.60,316.9 298.00,313.6 298.40,317.2 298.80,313.0 299.20,316.1 299.60,311.1 300.00,313.6 300.40,309.5 300.80,312.5 301.20,308.1 301.60,310.7 302.00,306.8 302.40,308.2 302.80,304.8 303.20,306.8 303.60,301.5 304.00,303.6 304.40,299.6 304.80,301.9 305.20,298.4 305.60,299.3 306.00,296.5 306.40,299.1 306.80,296.6 307.20,299.7 307.60,297.2 308.00,301.3 308.40,297.7 308.80,303.8 309.20,299.9 309.60,305.3 310.00,303.4 310.40,306.7 310.80,305.7 311.20,308.9 311.60,308.3 312.00,313.1 312.40,309.1 312.80,315.2 313.20,312.3 313.60,316.4 314.00,313.7 314.40,317.7 314.80,313.8 315.20,318.1 315.60,312.2 316.00,318.6 316.40,312.9 316.80,318.4 317.20,315.0 317.60,319.7 318.00,314.0 318.40,318.5 318.80,315.0 319.20,317.7 319.60,315.2 320.00,319.5 320.40,315.5 320.80,319.1 321.20,316.8 321.60,320.2 322.00,313.4 322.40,318.6 322.80,316.4 323.20,319.4 323.60,315.1 324.00,320.2 324.40,316.4 324.80,320.4 325.20,318.0 325.60,320.0 326.00,316.6 326.40,320.7 326.80,315.8 327.20,321.3 327.60,318.2 328.00,320.6 328.40,317.0 328.80,321.1 329.20,318.1 329.60,319.4 330.00,316.8 330.40,321.3 330.80,317.2 331.20,319.9 331.60,316.4 332.00,320.0 332.40,318.0 332.80,323.2 333.20,317.9 333.60,321.5 334.00,318.2 334.40,322.2 334.80,318.5 335.20,321.6 335.60,317.6 336.00,320.7 336.40,317.3 336.80,320.3 337.20,318.1 337.60,321.3 338.00,317.8 338.40,321.7 338.80,316.8 339.20,321.4 339.60,318.5 340.00,321.7 340.40,318.5 340.80,323.0 341.20,318.7 341.60,322.6 342.00,318.0 342.40,319.2 342.80,315.6 343.20,319.3 343.60,318.4 344.00,323.5 344.40,319.5 344.80,322.4 345.20,319.7 345.60,322.1 346.00,319.8 346.40,322.1 346.80,319.2 347.20,322.7 347.60,315.2 348.00,320.2 348.40,315.9 348.80,322.6 349.20,318.9 349.60,322.2 350.00,321.9 350.40,324.4 350.80,319.0 351.20,322.9 351.60,318.9 352.00,323.1 352.40,318.1 352.80,321.1 353.20,318.9 353.60,320.8 354.00,318.2 354.40,323.4 354.80,318.3 355.20,321.4 355.60,318.7 356.00,322.1 356.40,319.3 356.80,321.7 357.20,317.2 357.60,321.4 358.00,316.7 358.40,320.0 358.80,318.4 359.20,322.1 359.60,316.3 360.00,317.8 360.40,315.0 360.80,318.6 361.20,316.5 361.60,322.9 362.00,319.4 362.40,320.9 362.80,316.9 363.20,321.1 363.60,318.6 364.00,319.4 364.40,318.0 364.80,320.2 365.20,317.4 365.60,321.9 366.00,317.4 366.40,321.4 366.80,317.5 367.20,322.2 367.60,317.8 368.00,321.9 368.40,316.8 368.80,321.2 369.20,316.1 369.60,320.5 370.00,316.7 370.40,320.7 370.80,318.0 371.20,320.5 371.60,317.8 372.00,321.4 372.40,318.2 372.80,321.1 373.20,317.2 373.60,323.5 374.00,317.7 374.40,320.9 374.80,315.6 375.20,321.4 375.60,317.8 376.00,320.4 376.40,316.7 376.80,321.7 377.20,317.3 377.60,319.8 378.00,317.6 378.40,321.6 378.80,318.8 379.20,323.1 379.60,317.7 380.00,320.9 380.40,319.6 380.80,321.7 381.20,319.8 381.60,322.0 382.00,318.2 382.40,321.5 382.80,318.5 383.20,322.7 383.60,317.1 384.00,323.1 384.40,318.1 384.80,322.5 385.20,318.7 385.60,321.9 386.00,318.6 386.40,320.4 386.80,314.3 387.20,316.6 387.60,315.3 388.00,321.9 388.40,318.4 388.80,320.6 389.20,317.2 389.60,320.8 390.00,317.1 390.40,320.2 390.80,316.2 391.20,320.5 391.60,314.7 392.00,318.1 392.40,316.7 392.80,319.0 393.20,311.9 393.60,315.3 394.00,311.1 394.40,318.1 394.80,317.9 395.20,322.0 395.60,319.9 396.00,324.7 396.40,321.6 396.80,322.5 397.20,319.1 397.60,323.1 398.00,319.0 398.40,321.9 398.80,318.9 399.20,323.4 399.60,318.5 400.00,321.9 400.40,319.8 400.80,322.5 401.20,318.3 401.60,322.0 402.00,320.2 402.40,324.0 402.80,318.6 403.20,323.0 403.60,318.8 404.00,323.7 404.40,318.4 404.80,323.0 405.20,317.8 405.60,323.2 406.00,318.0 406.40,322.3 406.80,318.7 407.20,322.3 407.60,320.3 408.00,323.4 408.40,319.7 408.80,323.1 409.20,319.6 409.60,324.1 410.00,318.8 410.40,322.1 410.80,318.7 411.20,323.6 411.60,319.3 412.00,323.1 412.40,317.5 412.80,323.3 413.20,318.8 413.60,322.3 414.00,318.3 414.40,321.7 414.80,320.7 415.20,322.4 415.60,319.7 416.00,324.1 416.40,318.9 416.80,322.0 417.20,319.8 417.60,323.0 418.00,319.0 418.40,322.0 418.80,318.2 419.20,322.3 419.60,317.9 420.00,322.5 420.40,317.7 420.80,324.2 421.20,320.6 421.60,325.4 422.00,319.6 422.40,324.7 422.80,320.3 423.20,325.3 423.60,320.6 424.00,323.0 424.40,318.2 424.80,322.9 425.20,319.1 425.60,322.3 426.00,315.4 426.40,320.7 426.80,316.2 427.20,320.1 427.60,316.1 428.00,321.9 428.40,319.7 428.80,323.7 429.20,319.0 429.60,322.7 430.00,319.5 430.40,323.8 430.80,317.4 431.20,322.9 431.60,318.6 432.00,322.3 432.40,317.6 432.80,324.0 433.20,319.9 433.60,324.3 434.00,319.0 434.40,323.7 434.80,319.1 435.20,322.7 435.60,319.9 436.00,324.0 436.40,319.5 436.80,322.9 437.20,317.8 437.60,323.3 438.00,319.6 438.40,322.5 438.80,318.5 439.20,323.6 439.60,318.8 440.00,323.5 440.40,320.1 440.80,322.9 441.20,319.5 441.60,323.1 442.00,319.0 442.40,322.1 442.80,317.1 443.20,322.7 443.60,319.2 444.00,324.2 444.40,318.9 444.80,323.6 445.20,321.0 445.60,322.2 446.00,318.1 446.40,322.1 446.80,319.5 447.20,321.1 447.60,318.4 448.00,323.7 448.40,320.4 448.80,323.7 449.20,319.9 449.60,322.6 450.00,319.5 450.40,323.7 450.80,319.2 451.20,324.4 451.60,319.3 452.00,322.9 452.40,318.9 452.80,322.5 453.20,319.7 453.60,323.7 454.00,319.2 454.40,323.2 454.80,318.9 455.20,322.7 455.60,319.0 456.00,323.8 456.40,319.6 456.80,323.5 457.20,319.5 457.60,321.0 458.00,318.9 458.40,321.9 458.80,317.6 459.20,322.7 459.60,318.9 460.00,322.6 460.40,317.7 460.80,323.4 461.20,318.6 461.60,323.1 462.00,319.3 462.40,322.9 462.80,318.7 463.20,323.3 463.60,319.0 464.00,322.1 464.40,320.3 464.80,321.8 465.20,319.4 465.60,324.0 466.00,318.2 466.40,322.6 466.80,320.3 467.20,323.6 467.60,318.7 468.00,321.8 468.40,318.0 468.80,323.1 469.20,318.2 469.60,323.4 470.00,318.4 470.40,323.0 470.80,319.5 471.20,320.0 471.60,316.8 472.00,320.7 472.40,321.5 472.80,324.2 473.20,321.1 473.60,324.1 474.00,315.8 474.40,321.9 474.80,318.4 475.20,322.9 475.60,319.9 476.00,323.2 476.40,321.0 476.80,323.1 477.20,318.8 477.60,322.6 478.00,319.1 478.40,324.3 478.80,319.0 479.20,324.0 479.60,318.5 480.00,323.1 480.40,318.7 480.80,322.8 481.20,318.4 481.60,323.2 482.00,320.2 482.40,324.4 482.80,320.5 483.20,324.2 483.60,316.2 484.00,320.8 484.40,319.6 484.80,324.3 485.20,319.0 485.60,322.1 486.00,320.3 486.40,324.4 486.80,319.0 487.20,321.6 487.60,320.2 488.00,323.3 488.40,319.9 488.80,323.6 489.20,319.1 489.60,323.6 490.00,319.8 490.40,323.1 490.80,317.2 491.20,321.8 491.60,317.3 492.00,323.1 492.40,318.2 492.80,322.9 493.20,319.7 493.60,322.4 494.00,318.6 494.40,324.0 494.80,318.2 495.20,323.9 495.60,318.8 496.00,323.0 496.40,320.5 496.80,323.6 497.20,319.4 497.60,323.6 498.00,320.6 498.40,323.1 498.80,320.5 499.20,323.5 499.60,319.7 500.00,323.1 500.40,318.8 500.80,323.1 501.20,318.0 501.60,322.4 502.00,319.3 502.40,322.1 502.80,318.6 503.20,324.7 503.60,319.1 504.00,323.7 504.40,319.0 504.80,322.2" fill="none" stroke="#ff8000" stroke-width="1.8" stroke-linejoin="round"/>
<polyline points="45.60,364.6 46.00,362.3 46.40,370.1 46.80,363.4 47.20,368.4 47.60,365.6 48.00,370.7 48.40,366.1 48.80,370.3 49.20,366.6 49.60,372.6 50.00,365.6 50.40,373.3 50.80,368.0 51.20,372.9 51.60,367.3 52.00,373.3 52.40,369.2 52.80,372.4 53.20,365.9 53.60,369.7 54.00,371.7 54.40,377.3 54.80,372.1 55.20,379.1 55.60,374.5 56.00,378.8 56.40,375.1 56.80,380.4 57.20,377.0 57.60,380.2 58.00,375.9 58.40,380.0 58.80,375.6 59.20,382.8 59.60,376.7 60.00,383.9 60.40,379.0 60.80,383.2 61.20,379.3 61.60,385.4 62.00,378.9 62.40,384.9 62.80,381.4 63.20,385.2 63.60,381.9 64.00,386.7 64.40,379.7 64.80,387.2 65.20,382.4 65.60,387.4 66.00,382.3 66.40,387.6 66.80,384.3 67.20,389.4 67.60,384.1 68.00,388.8 68.40,383.8 68.80,390.9 69.20,386.0 69.60,393.2 70.00,386.6 70.40,393.9 70.80,387.2 71.20,392.4 71.60,387.1 72.00,392.1 72.40,386.8 72.80,393.3 73.20,390.5 73.60,396.8 74.00,389.8 74.40,393.9 74.80,391.4 75.20,398.6 75.60,392.8 76.00,395.2 76.40,391.5 76.80,394.9 77.20,394.1 77.60,396.6 78.00,393.0 78.40,399.5 78.80,391.0 79.20,398.0 79.60,392.8 80.00,398.7 80.40,394.2 80.80,397.9 81.20,395.9 81.60,399.2 82.00,395.6 82.40,399.3 82.80,394.8 83.20,400.4 83.60,393.3 84.00,398.8 84.40,392.3 84.80,399.5 85.20,393.5 85.60,395.7 86.00,391.3 86.40,397.8 86.80,393.8 87.20,400.0 87.60,393.6 88.00,399.2 88.40,393.4 88.80,397.8 89.20,393.3 89.60,403.1 90.00,397.6 90.40,401.1 90.80,395.3 91.20,399.9 91.60,393.3 92.00,399.2 92.40,394.4 92.80,398.9 93.20,394.7 93.60,400.0 94.00,392.8 94.40,401.2 94.80,393.1 95.20,399.3 95.60,391.6 96.00,397.5 96.40,389.7 96.80,397.5 97.20,391.1 97.60,396.4 98.00,389.7 98.40,396.0 98.80,390.0 99.20,396.6 99.60,391.2 100.00,393.9 100.40,391.5 100.80,393.8 101.20,387.0 101.60,391.9 102.00,386.3 102.40,393.6 102.80,386.6 103.20,391.2 103.60,385.2 104.00,389.7 104.40,385.1 104.80,389.5 105.20,383.5 105.60,390.2 106.00,384.7 106.40,389.9 106.80,385.0 107.20,389.5 107.60,384.3 108.00,390.3 108.40,385.7 108.80,391.7 109.20,386.8 109.60,391.4 110.00,387.5 110.40,393.4 110.80,387.6 111.20,395.6 111.60,388.9 112.00,392.5 112.40,391.3 112.80,399.0 113.20,392.7 113.60,398.0 114.00,395.0 114.40,401.2 114.80,394.0 115.20,401.7 115.60,395.8 116.00,403.8 116.40,396.7 116.80,404.2 117.20,399.8 117.60,407.5 118.00,402.7 118.40,409.0 118.80,400.1 119.20,403.5 119.60,399.7 120.00,408.2 120.40,402.3 120.80,407.5 121.20,403.2 121.60,407.4 122.00,403.8 122.40,408.9 122.80,405.1 123.20,408.9 123.60,406.0 124.00,410.9 124.40,404.8 124.80,410.8 125.20,406.6 125.60,410.3 126.00,406.6 126.40,413.2 126.80,409.3 127.20,413.6 127.60,408.1 128.00,410.3 128.40,406.5 128.80,412.7 129.20,411.1 129.60,414.5 130.00,409.8 130.40,414.6 130.80,409.9 131.20,414.4 131.60,409.7 132.00,415.4 132.40,410.9 132.80,415.9 133.20,411.3 133.60,417.5 134.00,410.4 134.40,416.8 134.80,412.7 135.20,415.9 135.60,413.3 136.00,416.8 136.40,413.0 136.80,417.1 137.20,413.1 137.60,418.0 138.00,414.6 138.40,416.5 138.80,411.8 139.20,417.0 139.60,412.1 140.00,416.1 140.40,412.0 140.80,416.4 141.20,415.1 141.60,419.1 142.00,414.7 142.40,420.2 142.80,415.1 143.20,420.0 143.60,415.7 144.00,421.3 144.40,419.3 144.80,423.6 145.20,417.1 145.60,422.4 146.00,417.0 146.40,423.7 146.80,418.3 147.20,423.7 147.60,419.7 148.00,423.9 148.40,419.8 148.80,425.6 149.20,420.0 149.60,424.3 150.00,419.8 150.40,425.1 150.80,420.9 151.20,424.7 151.60,421.2 152.00,427.2 152.40,420.8 152.80,425.7 153.20,421.6 153.60,424.1 154.00,422.7 154.40,426.4 154.80,421.9 155.20,424.4 155.60,420.9 156.00,427.0 156.40,422.3 156.80,426.3 157.20,422.3 157.60,425.8 158.00,421.0 158.40,426.6 158.80,421.7 159.20,425.8 159.60,420.9 160.00,425.2 160.40,421.9 160.80,425.5 161.20,422.7 161.60,424.2 162.00,418.5 162.40,425.1 162.80,419.9 163.20,425.8 163.60,420.8 164.00,424.5 164.40,423.1 164.80,425.5 165.20,419.6 165.60,424.6 166.00,421.7 166.40,424.6 166.80,420.0 167.20,425.8 167.60,420.9 168.00,425.1 168.40,420.5 168.80,423.8 169.20,420.2 169.60,424.4 170.00,421.1 170.40,424.4 170.80,420.3 171.20,422.8 171.60,419.2 172.00,421.3 172.40,418.5 172.80,422.6 173.20,418.9 173.60,422.0 174.00,419.7 174.40,425.0 174.80,419.1 175.20,422.2 175.60,418.8 176.00,423.4 176.40,420.0 176.80,424.8 177.20,420.3 177.60,425.9 178.00,421.9 178.40,427.1 178.80,423.6 179.20,426.9 179.60,424.0 180.00,427.6 180.40,423.5 180.80,428.7 181.20,425.0 181.60,427.8 182.00,423.3 182.40,428.8 182.80,424.4 183.20,430.8 183.60,425.5 184.00,430.3 184.40,426.3 184.80,431.7 185.20,425.8 185.60,430.1 186.00,426.2 186.40,430.0 186.80,426.2 187.20,431.9 187.60,427.4 188.00,431.1 188.40,429.3 188.80,434.0 189.20,429.8 189.60,433.3 190.00,427.8 190.40,431.7 190.80,428.6 191.20,431.9 191.60,429.3 192.00,434.4 192.40,429.1 192.80,432.9 193.20,428.8 193.60,431.8 194.00,429.7 194.40,433.9 194.80,430.6 195.20,434.2 195.60,431.2 196.00,433.4 196.40,428.8 196.80,431.4 197.20,430.2 197.60,432.8 198.00,429.0 198.40,432.1 198.80,428.5 199.20,432.7 199.60,429.7 200.00,432.3 200.40,429.5 200.80,430.9 201.20,430.5 201.60,433.4 202.00,429.0 202.40,434.1 202.80,430.0 203.20,432.3 203.60,428.8 204.00,432.7 204.40,428.4 204.80,432.7 205.20,429.5 205.60,431.0 206.00,429.6 206.40,433.9 206.80,428.6 207.20,434.0 207.60,429.7 208.00,432.8 208.40,429.9 208.80,433.1 209.20,428.9 209.60,432.7 210.00,427.0 210.40,431.2 210.80,427.4 211.20,430.8 211.60,427.3 212.00,431.9 212.40,428.9 212.80,433.0 213.20,427.9 213.60,433.2 214.00,430.2 214.40,435.3 214.80,432.2 215.20,433.6 215.60,430.9 216.00,434.5 216.40,430.2 216.80,432.1 217.20,428.9 217.60,436.5 218.00,432.8 218.40,436.6 218.80,430.5 219.20,435.4 219.60,431.5 220.00,434.6 220.40,431.9 220.80,435.2 221.20,431.7 221.60,434.9 222.00,432.5 222.40,435.4 222.80,432.6 223.20,435.6 223.60,432.2 224.00,435.3 224.40,432.8 224.80,436.5 225.20,434.2 225.60,436.3 226.00,433.1 226.40,435.1 226.80,433.2 227.20,435.4 227.60,434.6 228.00,438.2 228.40,435.3 228.80,437.6 229.20,433.8 229.60,437.2 230.00,432.2 230.40,435.6 230.80,432.1 231.20,438.1 231.60,433.0 232.00,436.8 232.40,432.6 232.80,436.4 233.20,432.8 233.60,436.3 234.00,432.4 234.40,437.7 234.80,433.6 235.20,438.4 235.60,432.7 236.00,438.0 236.40,434.5 236.80,439.3 237.20,432.8 237.60,436.0 238.00,434.6 238.40,437.1 238.80,432.7 239.20,438.2 239.60,433.8 240.00,437.7 240.40,433.1 240.80,436.5 241.20,433.3 241.60,437.5 242.00,433.5 242.40,437.7 242.80,434.9 243.20,437.3 243.60,434.4 244.00,438.3 244.40,434.6 244.80,439.0 245.20,436.2 245.60,438.7 246.00,435.8 246.40,435.8 246.80,429.8 247.20,436.3 247.60,433.8 248.00,438.9 248.40,434.0 248.80,438.1 249.20,433.6 249.60,435.9 250.00,431.9 250.40,437.2 250.80,433.8 251.20,438.0 251.60,434.1 252.00,439.6 252.40,432.6 252.80,439.4 253.20,435.0 253.60,439.2 254.00,434.6 254.40,438.3 254.80,436.5 255.20,439.6 255.60,436.2 256.00,439.3 256.40,434.6 256.80,437.7 257.20,431.6 257.60,435.8 258.00,435.7 258.40,440.7 258.80,437.4 259.20,439.4 259.60,435.2 260.00,438.8 260.40,435.8 260.80,439.7 261.20,436.4 261.60,438.9 262.00,436.2 262.40,438.9 262.80,435.6 263.20,440.0 263.60,436.9 264.00,439.9 264.40,435.8 264.80,438.9 265.20,434.6 265.60,438.4 266.00,435.4 266.40,439.5 266.80,433.6 267.20,436.8 267.60,435.1 268.00,439.2 268.40,436.2 268.80,439.9 269.20,434.6 269.60,437.1 270.00,435.4 270.40,439.9 270.80,434.0 271.20,439.3 271.60,436.4 272.00,438.5 272.40,433.9 272.80,438.8 273.20,434.8 273.60,437.7 274.00,433.7 274.40,438.1 274.80,434.4 275.20,438.7 275.60,433.2 276.00,438.3 276.40,434.2 276.80,437.0 277.20,433.4 277.60,438.5 278.00,433.9 278.40,435.8 278.80,434.3 279.20,437.3 279.60,432.1 280.00,438.1 280.40,433.3 280.80,438.4 281.20,432.7 281.60,436.8 282.00,434.4 282.40,436.6 282.80,433.5 283.20,436.6 283.60,432.7 284.00,435.9 284.40,435.0 284.80,438.2 285.20,431.1 285.60,436.0 286.00,430.9 286.40,439.2 286.80,434.9 287.20,438.7 287.60,432.0 288.00,435.2 288.40,431.7 288.80,435.7 289.20,431.7 289.60,434.9 290.00,431.9 290.40,435.7 290.80,431.8 291.20,434.9 291.60,433.6 292.00,436.3 292.40,432.6 292.80,432.5 293.20,429.2 293.60,433.5 294.00,428.8 294.40,432.9 294.80,428.7 295.20,432.2 295.60,426.4 296.00,428.6 296.40,422.9 296.80,424.6 297.20,419.1 297.60,422.8 298.00,419.7 298.40,422.1 298.80,420.9 299.20,425.3 299.60,421.6 300.00,427.3 300.40,425.4 300.80,429.2 301.20,427.6 301.60,431.0 302.00,428.0 302.40,431.9 302.80,429.4 303.20,432.2 303.60,430.1 304.00,433.8 304.40,431.0 304.80,433.2 305.20,430.1 305.60,432.4 306.00,427.6 306.40,431.9 306.80,431.4 307.20,433.2 307.60,430.0 308.00,434.9 308.40,429.5 308.80,434.1 309.20,429.2 309.60,431.7 310.00,427.1 310.40,430.6 310.80,427.4 311.20,431.7 311.60,428.2 312.00,433.5 312.40,430.1 312.80,433.4 313.20,432.3 313.60,434.2 314.00,432.2 314.40,435.6 314.80,435.1 315.20,438.7 315.60,435.6 316.00,437.3 316.40,435.3 316.80,438.0 317.20,435.3 317.60,437.9 318.00,434.2 318.40,439.4 318.80,434.8 319.20,439.2 319.60,435.4 320.00,438.5 320.40,435.1 320.80,438.8 321.20,435.8 321.60,438.8 322.00,435.5 322.40,439.3 322.80,436.1 323.20,440.3 323.60,435.9 324.00,438.2 324.40,434.7 324.80,438.2 325.20,435.6 325.60,439.1 326.00,437.4 326.40,439.2 326.80,436.7 327.20,441.1 327.60,437.7 328.00,440.2 328.40,435.6 328.80,440.8 329.20,435.9 329.60,439.9 330.00,436.1 330.40,439.4 330.80,436.6 331.20,440.8 331.60,435.9 332.00,439.0 332.40,436.8 332.80,440.2 333.20,436.0 333.60,440.4 334.00,437.5 334.40,439.0 334.80,436.8 335.20,439.7 335.60,434.7 336.00,438.2 336.40,436.6 336.80,439.8 337.20,434.3 337.60,438.2 338.00,436.1 338.40,438.9 338.80,435.5 339.20,440.1 339.60,436.3 340.00,440.3 340.40,437.7 340.80,440.3 341.20,437.0 341.60,439.2 342.00,435.6 342.40,439.6 342.80,436.6 343.20,440.8 343.60,435.8 344.00,438.9 344.40,437.2 344.80,440.7 345.20,437.0 345.60,438.4 346.00,436.5 346.40,440.3 346.80,436.3 347.20,440.1 347.60,437.1 348.00,440.2 348.40,436.4 348.80,439.4 349.20,436.0 349.60,440.0 350.00,437.1 350.40,440.9 350.80,436.6 351.20,441.2 351.60,438.9 352.00,440.6 352.40,437.0 352.80,439.4 353.20,436.1 353.60,438.7 354.00,435.4 354.40,440.0 354.80,436.8 355.20,440.9 355.60,436.0 356.00,439.9 356.40,437.1 356.80,440.0 357.20,435.1 357.60,440.1 358.00,437.0 358.40,440.7 358.80,435.3 359.20,440.2 359.60,436.7 360.00,438.7 360.40,436.9 360.80,439.1 361.20,436.0 361.60,440.1 362.00,436.6 362.40,438.5 362.80,436.5 363.20,438.6 363.60,435.1 364.00,438.2 364.40,435.5 364.80,439.7 365.20,436.3 365.60,439.7 366.00,435.6 366.40,438.3 366.80,436.2 367.20,438.7 367.60,434.7 368.00,437.4 368.40,435.1 368.80,440.9 369.20,438.0 369.60,440.6 370.00,434.9 370.40,438.2 370.80,434.3 371.20,437.9 371.60,433.7 372.00,439.1 372.40,435.4 372.80,437.1 373.20,435.1 373.60,437.8 374.00,434.4 374.40,438.8 374.80,434.0 375.20,438.6 375.60,434.8 376.00,438.4 376.40,435.2 376.80,439.2 377.20,434.9 377.60,438.0 378.00,436.3 378.40,439.7 378.80,436.1 379.20,438.6 379.60,435.8 380.00,438.7 380.40,435.6 380.80,438.1 381.20,434.8 381.60,438.2 382.00,436.1 382.40,439.2 382.80,434.5 383.20,439.9 383.60,433.3 384.00,437.7 384.40,435.6 384.80,438.5 385.20,434.1 385.60,437.6 386.00,435.1 386.40,439.1 386.80,437.3 387.20,442.6 387.60,438.4 388.00,440.6 388.40,434.6 388.80,438.4 389.20,436.4 389.60,438.4 390.00,435.7 390.40,439.0 390.80,435.7 391.20,439.4 391.60,435.5 392.00,439.2 392.40,436.1 392.80,438.7 393.20,435.9 393.60,438.4 394.00,434.8 394.40,438.1 394.80,436.2 395.20,438.7 395.60,437.0 396.00,440.8 396.40,437.3 396.80,441.3 397.20,437.4 397.60,438.1 398.00,435.8 398.40,440.2 398.80,437.0 399.20,439.7 399.60,437.2 400.00,441.4 400.40,437.0 400.80,440.2 401.20,437.2 401.60,439.9 402.00,437.8 402.40,439.1 402.80,436.5 403.20,438.5 403.60,436.3 404.00,439.5 404.40,437.2 404.80,439.5 405.20,436.5 405.60,440.2 406.00,436.7 406.40,440.9 406.80,435.2 407.20,438.8 407.60,436.0 408.00,439.4 408.40,437.6 408.80,439.6 409.20,436.1 409.60,439.6 410.00,436.9 410.40,441.0 410.80,436.6 411.20,440.4 411.60,436.0 412.00,441.1 412.40,438.0 412.80,440.0 413.20,437.7 413.60,440.7 414.00,436.6 414.40,441.0 414.80,437.1 415.20,439.7 415.60,436.4 416.00,440.4 416.40,437.7 416.80,439.9 417.20,437.1 417.60,441.0 418.00,436.8 418.40,440.2 418.80,436.3 419.20,439.3 419.60,437.2 420.00,441.2 420.40,436.3 420.80,439.6 421.20,436.3 421.60,441.4 422.00,436.6 422.40,440.0 422.80,436.2 423.20,439.7 423.60,437.4 424.00,439.9 424.40,437.6 424.80,440.4 425.20,434.8 425.60,437.8 426.00,435.5 426.40,442.0 426.80,438.0 427.20,441.9 427.60,437.9 428.00,440.7 428.40,438.2 428.80,441.1 429.20,437.3 429.60,442.5 430.00,436.8 430.40,440.8 430.80,437.9 431.20,440.3 431.60,439.3 432.00,441.7 432.40,437.1 432.80,439.6 433.20,437.7 433.60,442.7 434.00,437.4 434.40,441.4 434.80,437.7 435.20,442.3 435.60,440.2 436.00,439.2 436.40,436.2 436.80,440.9 437.20,436.9 437.60,442.1 438.00,437.2 438.40,441.4 438.80,439.6 439.20,441.8 439.60,436.3 440.00,441.6 440.40,437.1 440.80,441.1 441.20,439.3 441.60,442.4 442.00,439.7 442.40,441.7 442.80,438.9 443.20,442.0 443.60,438.0 444.00,442.4 444.40,439.9 444.80,442.5 445.20,439.6 445.60,442.2 446.00,438.4 446.40,440.7 446.80,438.4 447.20,440.5 447.60,438.1 448.00,442.1 448.40,437.7 448.80,441.9 449.20,437.8 449.60,442.3 450.00,437.1 450.40,442.7 450.80,439.5 451.20,442.4 451.60,439.6 452.00,444.2 452.40,441.0 452.80,444.6 453.20,438.3 453.60,442.1 454.00,436.5 454.40,439.5 454.80,437.3 455.20,440.5 455.60,439.4 456.00,441.8 456.40,437.0 456.80,441.4 457.20,438.7 457.60,442.0 458.00,439.8 458.40,442.2 458.80,439.0 459.20,441.0 459.60,440.2 460.00,441.8 460.40,439.4 460.80,442.4 461.20,436.4 461.60,440.3 462.00,439.1 462.40,443.5 462.80,437.5 463.20,442.2 463.60,438.9 464.00,441.4 464.40,439.6 464.80,441.7 465.20,438.5 465.60,439.9 466.00,435.2 466.40,437.9 466.80,436.2 467.20,440.1 467.60,439.5 468.00,442.6 468.40,438.1 468.80,442.9 469.20,439.3 469.60,442.2 470.00,438.9 470.40,443.2 470.80,439.7 471.20,442.8 471.60,438.4 472.00,442.1 472.40,439.4 472.80,443.3 473.20,438.8 473.60,442.8 474.00,437.7 474.40,442.7 474.80,436.5 475.20,438.4 475.60,438.1 476.00,441.7 476.40,438.3 476.80,442.0 477.20,437.4 477.60,442.1 478.00,436.5 478.40,441.4 478.80,437.2 479.20,442.4 479.60,438.7 480.00,439.8 480.40,435.8 480.80,439.5 481.20,439.3 481.60,441.5 482.00,438.0 482.40,441.9 482.80,438.5 483.20,441.6 483.60,439.7 484.00,442.0 484.40,437.1 484.80,439.3 485.20,437.6 485.60,442.2 486.00,438.3 486.40,439.8 486.80,438.6 487.20,440.6 487.60,438.9 488.00,443.0 488.40,437.5 488.80,441.9 489.20,438.4 489.60,443.0 490.00,439.0 490.40,443.8 490.80,440.2 491.20,443.9 491.60,438.0 492.00,441.2 492.40,437.6 492.80,442.4 493.20,437.2 493.60,441.7 494.00,438.4 494.40,441.2 494.80,437.2 495.20,440.9 495.60,437.8 496.00,441.7 496.40,437.2 496.80,441.3 497.20,437.6 497.60,441.6 498.00,437.4 498.40,441.4 498.80,439.3 499.20,442.5 499.60,438.7 500.00,442.6 500.40,437.5 500.80,443.4 501.20,436.8 501.60,441.5 502.00,437.0 502.40,440.3 502.80,437.7 503.20,441.1 503.60,437.8 504.00,439.5 504.40,439.0 504.80,441.4" fill="none" stroke="#0000a8" stroke-width="1.8" stroke-linejoin="round"/>
<polyline points="45.60,458.9 46.00,457.2 46.40,463.4 46.80,457.2 47.20,467.0 47.60,459.3 48.00,466.9 48.40,461.7 48.80,469.3 49.20,459.4 49.60,470.0 50.00,464.7 50.40,468.7 50.80,461.5 51.20,471.2 51.60,467.4 52.00,472.9 52.40,468.3 52.80,473.9 53.20,469.1 53.60,475.5 54.00,468.9 54.40,476.9 54.80,471.1 55.20,478.0 55.60,473.7 56.00,479.8 56.40,475.7 56.80,477.1 57.20,472.5 57.60,478.1 58.00,473.3 58.40,480.9 58.80,474.8 59.20,480.9 59.60,476.0 60.00,481.3 60.40,478.1 60.80,484.3 61.20,478.9 61.60,486.3 62.00,477.1 62.40,483.5 62.80,479.8 63.20,486.4 63.60,481.3 64.00,488.4 64.40,481.0 64.80,485.1 65.20,478.9 65.60,489.5 66.00,482.9 66.40,490.2 66.80,484.5 67.20,489.6 67.60,484.3 68.00,493.1 68.40,483.6 68.80,495.0 69.20,484.0 69.60,493.3 70.00,483.9 70.40,491.3 70.80,485.3 71.20,494.6 71.60,486.9 72.00,494.4 72.40,488.1 72.80,496.6 73.20,490.0 73.60,496.7 74.00,489.6 74.40,497.4 74.80,491.1 75.20,498.2 75.60,491.9 76.00,499.0 76.40,491.5 76.80,494.6 77.20,491.1 77.60,496.8 78.00,493.0 78.40,499.4 78.80,493.2 79.20,497.2 79.60,491.5 80.00,497.7 80.40,492.5 80.80,498.9 81.20,492.8 81.60,499.4 82.00,490.7 82.40,498.9 82.80,494.9 83.20,497.9 83.60,493.6 84.00,499.7 84.40,492.6 84.80,499.8 85.20,493.8 85.60,499.3 86.00,493.8 86.40,500.6 86.80,493.8 87.20,500.4 87.60,486.0 88.00,496.3 88.40,495.8 88.80,503.3 89.20,493.8 89.60,500.1 90.00,493.4 90.40,501.7 90.80,495.3 91.20,499.9 91.60,494.6 92.00,500.0 92.40,491.1 92.80,498.5 93.20,490.9 93.60,500.6 94.00,491.8 94.40,496.5 94.80,488.5 95.20,492.9 95.60,488.0 96.00,492.9 96.40,484.7 96.80,490.9 97.20,483.8 97.60,491.7 98.00,483.0 98.40,491.5 98.80,482.3 99.20,490.9 99.60,480.9 100.00,491.1 100.40,482.8 100.80,488.3 101.20,482.2 101.60,494.2 102.00,487.0 102.40,497.0 102.80,484.9 103.20,494.1 103.60,489.1 104.00,497.1 104.40,485.4 104.80,492.0 105.20,484.1 105.60,496.6 106.00,492.4 106.40,493.0 106.80,487.3 107.20,496.3 107.60,488.1 108.00,493.7 108.40,487.4 108.80,494.7 109.20,490.2 109.60,496.9 110.00,488.8 110.40,503.1 110.80,499.6 111.20,504.1 111.60,492.2 112.00,498.8 112.40,494.4 112.80,498.7 113.20,492.4 113.60,503.7 114.00,497.5 114.40,505.2 114.80,495.4 115.20,501.1 115.60,498.6 116.00,504.4 116.40,497.6 116.80,505.7 117.20,499.6 117.60,506.8 118.00,497.5 118.40,511.0 118.80,501.9 119.20,507.3 119.60,498.2 120.00,508.3 120.40,503.3 120.80,510.0 121.20,502.9 121.60,512.3 122.00,503.6 122.40,510.3 122.80,504.4 123.20,512.4 123.60,499.0 124.00,509.3 124.40,508.1 124.80,511.9 125.20,504.9 125.60,513.8 126.00,506.0 126.40,509.5 126.80,508.5 127.20,517.1 127.60,510.2 128.00,516.7 128.40,507.8 128.80,515.3 129.20,509.6 129.60,519.9 130.00,508.8 130.40,519.7 130.80,512.2 131.20,521.7 131.60,513.5 132.00,520.0 132.40,515.0 132.80,521.0 133.20,514.5 133.60,524.9 134.00,515.7 134.40,523.8 134.80,513.3 135.20,521.8 135.60,514.0 136.00,520.0 136.40,516.0 136.80,524.3 137.20,520.4 137.60,522.6 138.00,516.5 138.40,526.4 138.80,521.1 139.20,525.6 139.60,516.8 140.00,522.7 140.40,513.2 140.80,518.7 141.20,512.6 141.60,517.4 142.00,509.2 142.40,518.9 142.80,512.6 143.20,521.5 143.60,517.9 144.00,522.8 144.40,521.4 144.80,529.5 145.20,524.2 145.60,523.6 146.00,519.9 146.40,527.1 146.80,522.1 147.20,527.7 147.60,522.2 148.00,529.7 148.40,521.9 148.80,530.7 149.20,521.6 149.60,531.0 150.00,524.2 150.40,530.4 150.80,523.7 151.20,530.0 151.60,523.8 152.00,532.4 152.40,525.9 152.80,529.0 153.20,524.1 153.60,532.4 154.00,525.7 154.40,531.1 154.80,524.9 155.20,533.9 155.60,527.0 156.00,532.7 156.40,526.8 156.80,533.5 157.20,528.2 157.60,533.4 158.00,527.3 158.40,535.0 158.80,529.0 159.20,535.1 159.60,531.5 160.00,535.2 160.40,528.9 160.80,534.0 161.20,528.0 161.60,532.9 162.00,527.1 162.40,533.6 162.80,529.6 163.20,533.5 163.60,528.9 164.00,535.9 164.40,529.7 164.80,532.7 165.20,526.8 165.60,532.6 166.00,526.7 166.40,533.3 166.80,528.1 167.20,532.6 167.60,527.2 168.00,534.5 168.40,527.2 168.80,534.0 169.20,525.1 169.60,532.8 170.00,528.5 170.40,531.5 170.80,528.9 171.20,532.0 171.60,527.5 172.00,530.4 172.40,525.7 172.80,528.8 173.20,526.7 173.60,531.7 174.00,522.5 174.40,528.2 174.80,519.5 175.20,524.5 175.60,514.9 176.00,518.4 176.40,512.6 176.80,515.0 177.20,510.8 177.60,516.1 178.00,514.5 178.40,521.4 178.80,519.1 179.20,526.8 179.60,525.1 180.00,529.7 180.40,524.4 180.80,531.9 181.20,526.8 181.60,534.4 182.00,527.7 182.40,534.7 182.80,531.3 183.20,536.9 183.60,533.6 184.00,534.2 184.40,531.9 184.80,535.8 185.20,534.4 185.60,538.7 186.00,534.1 186.40,538.7 186.80,535.9 187.20,539.4 187.60,535.7 188.00,539.8 188.40,535.6 188.80,540.1 189.20,535.2 189.60,540.7 190.00,535.5 190.40,540.1 190.80,536.8 191.20,541.5 191.60,537.4 192.00,541.8 192.40,539.1 192.80,539.3 193.20,538.1 193.60,543.2 194.00,535.0 194.40,540.3 194.80,535.0 195.20,540.1 195.60,538.5 196.00,542.5 196.40,537.6 196.80,542.4 197.20,537.2 197.60,542.1 198.00,536.0 198.40,541.3 198.80,537.5 199.20,540.5 199.60,537.3 200.00,543.5 200.40,537.7 200.80,542.9 201.20,536.6 201.60,542.9 202.00,536.3 202.40,540.8 202.80,537.3 203.20,545.6 203.60,539.7 204.00,541.3 204.40,537.6 204.80,541.8 205.20,537.5 205.60,542.7 206.00,537.2 206.40,540.4 206.80,535.2 207.20,541.9 207.60,538.0 208.00,543.7 208.40,538.6 208.80,540.1 209.20,534.4 209.60,540.0 210.00,532.4 210.40,536.9 210.80,531.8 211.20,535.9 211.60,531.1 212.00,539.3 212.40,535.2 212.80,540.1 213.20,535.9 213.60,543.0 214.00,540.4 214.40,544.7 214.80,539.3 215.20,543.4 215.60,539.1 216.00,542.5 216.40,538.5 216.80,546.8 217.20,541.8 217.60,545.7 218.00,540.3 218.40,546.2 218.80,541.9 219.20,546.8 219.60,541.1 220.00,544.0 220.40,539.2 220.80,544.3 221.20,538.6 221.60,545.0 222.00,539.2 222.40,546.1 222.80,538.5 223.20,544.7 223.60,539.6 224.00,542.8 224.40,538.2 224.80,544.5 225.20,539.2 225.60,544.9 226.00,540.9 226.40,544.7 226.80,540.7 227.20,544.5 227.60,539.9 228.00,543.6 228.40,539.3 228.80,545.7 229.20,540.8 229.60,544.1 230.00,539.5 230.40,545.1 230.80,539.2 231.20,545.6 231.60,540.7 232.00,545.8 232.40,539.3 232.80,546.1 233.20,540.7 233.60,546.5 234.00,545.6 234.40,548.4 234.80,543.1 235.20,547.3 235.60,539.1 236.00,544.9 236.40,542.4 236.80,546.6 237.20,542.7 237.60,547.0 238.00,542.7 238.40,546.4 238.80,541.6 239.20,546.6 239.60,541.9 240.00,547.5 240.40,542.1 240.80,548.4 241.20,543.8 241.60,545.7 242.00,541.9 242.40,548.0 242.80,540.4 243.20,547.9 243.60,542.2 244.00,546.9 244.40,542.3 244.80,548.4 245.20,544.9 245.60,547.3 246.00,543.5 246.40,548.3 246.80,545.5 247.20,548.1 247.60,542.6 248.00,549.1 248.40,544.1 248.80,548.0 249.20,544.0 249.60,547.9 250.00,543.0 250.40,546.4 250.80,542.8 251.20,548.5 251.60,545.6 252.00,547.7 252.40,546.3 252.80,549.4 253.20,543.1 253.60,547.6 254.00,543.6 254.40,546.8 254.80,545.0 255.20,548.2 255.60,543.5 256.00,546.7 256.40,544.7 256.80,547.6 257.20,543.6 257.60,548.5 258.00,542.4 258.40,549.0 258.80,542.3 259.20,549.1 259.60,544.5 260.00,547.3 260.40,542.3 260.80,545.7 261.20,538.9 261.60,541.7 262.00,545.1 262.40,548.9 262.80,543.3 263.20,547.7 263.60,543.6 264.00,546.3 264.40,543.1 264.80,549.0 265.20,538.9 265.60,545.0 266.00,543.5 266.40,547.1 266.80,541.9 267.20,549.3 267.60,543.8 268.00,548.3 268.40,543.3 268.80,547.4 269.20,545.6 269.60,547.6 270.00,543.1 270.40,546.6 270.80,543.7 271.20,545.4 271.60,541.6 272.00,547.8 272.40,542.3 272.80,547.0 273.20,543.2 273.60,546.9 274.00,542.3 274.40,546.3 274.80,541.7 275.20,546.4 275.60,540.3 276.00,545.1 276.40,541.5 276.80,546.1 277.20,539.8 277.60,541.1 278.00,538.0 278.40,545.1 278.80,541.9 279.20,546.1 279.60,542.1 280.00,545.5 280.40,540.8 280.80,545.9 281.20,539.7 281.60,544.7 282.00,540.0 282.40,545.5 282.80,540.7 283.20,545.3 283.60,540.1 284.00,543.9 284.40,540.3 284.80,546.3 285.20,541.0 285.60,547.3 286.00,541.5 286.40,545.7 286.80,541.1 287.20,544.2 287.60,541.0 288.00,543.7 288.40,539.5 288.80,543.0 289.20,535.6 289.60,542.4 290.00,540.7 290.40,545.0 290.80,539.4 291.20,544.3 291.60,537.3 292.00,545.1 292.40,538.5 292.80,542.9 293.20,539.3 293.60,542.2 294.00,537.1 294.40,540.1 294.80,534.2 295.20,538.3 295.60,529.4 296.00,534.5 296.40,524.5 296.80,527.1 297.20,519.2 297.60,522.0 298.00,516.0 298.40,519.9 298.80,514.9 299.20,519.6 299.60,517.0 300.00,527.9 300.40,524.7 300.80,531.2 301.20,526.3 301.60,535.4 302.00,534.2 302.40,537.9 302.80,533.2 303.20,540.6 303.60,535.9 304.00,542.9 304.40,536.8 304.80,541.8 305.20,539.2 305.60,542.9 306.00,538.5 306.40,541.9 306.80,535.7 307.20,542.3 307.60,536.5 308.00,541.0 308.40,535.3 308.80,541.1 309.20,536.1 309.60,539.0 310.00,532.2 310.40,538.5 310.80,533.6 311.20,536.6 311.60,535.2 312.00,534.8 312.40,530.4 312.80,538.5 313.20,535.9 313.60,542.0 314.00,538.5 314.40,543.5 314.80,539.8 315.20,544.2 315.60,539.9 316.00,546.9 316.40,541.8 316.80,545.4 317.20,540.3 317.60,544.8 318.00,542.1 318.40,546.3 318.80,542.1 319.20,547.1 319.60,544.0 320.00,548.2 320.40,545.0 320.80,546.9 321.20,545.7 321.60,549.2 322.00,545.3 322.40,549.0 322.80,543.3 323.20,549.2 323.60,543.9 324.00,545.0 324.40,541.3 324.80,547.5 325.20,544.4 325.60,549.2 326.00,544.7 326.40,550.5 326.80,543.6 327.20,548.5 327.60,544.0 328.00,549.9 328.40,545.5 328.80,548.2 329.20,545.6 329.60,549.5 330.00,544.3 330.40,549.5 330.80,545.4 331.20,548.4 331.60,543.3 332.00,550.0 332.40,541.8 332.80,545.3 333.20,541.4 333.60,550.2 334.00,544.9 334.40,551.3 334.80,544.6 335.20,549.1 335.60,546.6 336.00,551.6 336.40,545.5 336.80,551.0 337.20,545.7 337.60,549.3 338.00,544.9 338.40,551.2 338.80,544.9 339.20,549.1 339.60,545.9 340.00,549.9 340.40,545.4 340.80,551.0 341.20,543.5 341.60,550.1 342.00,545.2 342.40,549.6 342.80,544.6 343.20,549.2 343.60,544.6 344.00,549.2 344.40,545.4 344.80,549.7 345.20,544.8 345.60,548.3 346.00,544.3 346.40,549.2 346.80,543.6 347.20,550.2 347.60,545.1 348.00,547.6 348.40,543.9 348.80,550.7 349.20,545.4 349.60,550.3 350.00,546.7 350.40,549.7 350.80,544.1 351.20,550.1 351.60,544.8 352.00,550.1 352.40,545.5 352.80,548.3 353.20,544.3 353.60,550.0 354.00,542.4 354.40,547.5 354.80,542.2 355.20,549.6 355.60,545.6 356.00,546.9 356.40,547.8 356.80,550.4 357.20,545.4 357.60,548.4 358.00,545.5 358.40,549.8 358.80,544.7 359.20,549.3 359.60,543.0 360.00,550.5 360.40,546.0 360.80,551.8 361.20,542.9 361.60,545.3 362.00,543.4 362.40,549.4 362.80,541.9 363.20,547.7 363.60,541.6 364.00,548.3 364.40,543.9 364.80,547.7 365.20,544.2 365.60,549.3 366.00,544.7 366.40,549.6 366.80,541.4 367.20,548.0 367.60,543.3 368.00,549.8 368.40,543.5 368.80,548.8 369.20,543.6 369.60,549.8 370.00,544.4 370.40,548.3 370.80,543.4 371.20,549.0 371.60,542.6 372.00,550.1 372.40,543.6 372.80,549.4 373.20,544.1 373.60,549.4 374.00,544.0 374.40,545.6 374.80,539.9 375.20,545.2 375.60,541.0 376.00,549.4 376.40,542.2 376.80,546.9 377.20,543.9 377.60,548.2 378.00,543.2 378.40,545.7 378.80,536.4 379.20,541.5 379.60,540.0 380.00,542.2 380.40,542.1 380.80,544.7 381.20,541.9 381.60,544.2 382.00,540.4 382.40,543.5 382.80,541.4 383.20,547.7 383.60,539.0 384.00,542.6 384.40,541.8 384.80,547.4 385.20,543.1 385.60,546.9 386.00,542.1 386.40,548.0 386.80,540.8 387.20,544.8 387.60,541.4 388.00,546.4 388.40,545.0 388.80,547.7 389.20,544.6 389.60,547.8 390.00,541.4 390.40,548.5 390.80,544.4 391.20,546.1 391.60,544.2 392.00,546.0 392.40,544.8 392.80,547.5 393.20,542.3 393.60,546.7 394.00,539.0 394.40,546.5 394.80,541.6 395.20,546.4 395.60,542.4 396.00,545.4 396.40,542.1 396.80,547.6 397.20,542.9 397.60,546.1 398.00,544.2 398.40,546.8 398.80,543.7 399.20,548.5 399.60,543.4 400.00,549.1 400.40,544.2 400.80,549.4 401.20,544.1 401.60,549.7 402.00,546.2 402.40,550.1 402.80,546.0 403.20,548.1 403.60,543.7 404.00,548.5 404.40,543.2 404.80,549.9 405.20,546.4 405.60,550.5 406.00,546.5 406.40,552.2 406.80,544.7 407.20,551.1 407.60,546.5 408.00,550.7 408.40,545.4 408.80,550.7 409.20,548.1 409.60,552.7 410.00,546.8 410.40,551.7 410.80,547.7 411.20,549.6 411.60,545.4 412.00,550.9 412.40,548.0 412.80,550.1 413.20,547.4 413.60,553.2 414.00,546.7 414.40,551.0 414.80,546.1 415.20,553.7 415.60,548.7 416.00,550.3 416.40,547.1 416.80,551.6 417.20,547.3 417.60,551.3 418.00,545.9 418.40,552.5 418.80,545.7 419.20,550.8 419.60,546.2 420.00,551.5 420.40,547.5 420.80,551.8 421.20,546.6 421.60,551.0 422.00,545.9 422.40,551.3 422.80,545.1 423.20,552.5 423.60,545.9 424.00,549.6 424.40,545.6 424.80,549.4 425.20,544.5 425.60,548.9 426.00,545.4 426.40,550.6 426.80,544.3 427.20,550.1 427.60,544.0 428.00,551.3 428.40,546.5 428.80,550.1 429.20,544.9 429.60,549.4 430.00,545.9 430.40,549.9 430.80,545.1 431.20,550.2 431.60,544.2 432.00,550.8 432.40,545.7 432.80,549.1 433.20,544.6 433.60,549.4 434.00,545.4 434.40,550.2 434.80,544.3 435.20,553.2 435.60,546.6 436.00,551.6 436.40,543.3 436.80,548.5 437.20,544.2 437.60,548.9 438.00,544.9 438.40,546.9 438.80,544.2 439.20,549.4 439.60,544.5 440.00,548.5 440.40,544.6 440.80,549.2 441.20,543.9 441.60,550.0 442.00,544.4 442.40,548.5 442.80,544.2 443.20,549.0 443.60,544.8 444.00,547.8 444.40,544.7 444.80,549.5 445.20,542.7 445.60,546.8 446.00,542.0 446.40,550.1 446.80,544.0 447.20,550.0 447.60,545.6 448.00,549.7 448.40,549.2 448.80,550.5 449.20,544.6 449.60,549.3 450.00,543.9 450.40,549.6 450.80,545.4 451.20,551.0 451.60,543.0 452.00,549.4 452.40,543.8 452.80,547.7 453.20,544.5 453.60,550.4 454.00,544.1 454.40,550.4 454.80,545.4 455.20,549.5 455.60,544.5 456.00,549.7 456.40,544.2 456.80,551.0 457.20,544.8 457.60,549.1 458.00,545.6 458.40,550.6 458.80,547.8 459.20,553.4 459.60,547.5 460.00,550.4 460.40,546.2 460.80,550.5 461.20,544.9 461.60,550.2 462.00,545.9 462.40,549.3 462.80,544.7 463.20,548.7 463.60,545.9 464.00,551.1 464.40,544.8 464.80,550.7 465.20,545.3 465.60,546.6 466.00,540.9 466.40,548.8 466.80,545.1 467.20,549.1 467.60,546.7 468.00,551.3 468.40,546.6 468.80,551.9 469.20,546.1 469.60,551.8 470.00,547.8 470.40,550.8 470.80,546.8 471.20,551.8 471.60,546.6 472.00,551.8 472.40,546.0 472.80,552.4 473.20,545.5 473.60,550.0 474.00,545.2 474.40,550.0 474.80,543.2 475.20,549.7 475.60,546.6 476.00,550.0 476.40,545.3 476.80,549.6 477.20,545.2 477.60,551.3 478.00,546.1 478.40,550.9 478.80,547.3 479.20,551.0 479.60,547.4 480.00,552.1 480.40,544.8 480.80,550.4 481.20,545.9 481.60,548.5 482.00,546.1 482.40,550.4 482.80,545.3 483.20,549.9 483.60,544.5 484.00,550.3 484.40,545.9 484.80,551.9 485.20,547.5 485.60,549.1 486.00,546.2 486.40,549.4 486.80,546.2 487.20,549.4 487.60,545.7 488.00,550.1 488.40,545.3 488.80,550.3 489.20,545.5 489.60,549.5 490.00,547.1 490.40,548.3 490.80,543.4 491.20,549.0 491.60,544.6 492.00,551.3 492.40,545.2 492.80,550.2 493.20,545.1 493.60,551.2 494.00,544.7 494.40,551.3 494.80,545.7 495.20,550.4 495.60,545.9 496.00,548.9 496.40,546.0 496.80,550.2 497.20,544.5 497.60,549.2 498.00,545.2 498.40,551.7 498.80,546.1 499.20,550.7 499.60,546.3 500.00,550.5 500.40,545.6 500.80,551.3 501.20,546.3 501.60,548.2 502.00,543.1 502.40,548.7 502.80,544.9 503.20,551.2 503.60,545.5 504.00,550.2 504.40,546.1 504.80,549.3" fill="none" stroke="#ff0000" stroke-width="1.8" stroke-linejoin="round"/>
<polyline points="45.60,574.8 46.00,564.4 46.40,572.0 46.80,568.4 47.20,577.7 47.60,567.5 48.00,579.1 48.40,568.1 48.80,579.5 49.20,571.0 49.60,580.9 50.00,574.3 50.40,579.8 50.80,573.6 51.20,582.4 51.60,574.7 52.00,587.4 52.40,576.2 52.80,587.8 53.20,578.2 53.60,587.4 54.00,582.7 54.40,590.4 54.80,581.7 55.20,588.5 55.60,586.7 56.00,592.9 56.40,586.1 56.80,595.0 57.20,586.0 57.60,595.1 58.00,586.9 58.40,597.3 58.80,584.8 59.20,594.4 59.60,589.7 60.00,597.1 60.40,590.7 60.80,598.7 61.20,590.3 61.60,597.8 62.00,588.9 62.40,603.9 62.80,597.3 63.20,606.3 63.60,594.5 64.00,605.5 64.40,593.1 64.80,602.9 65.20,597.3 65.60,604.1 66.00,594.1 66.40,603.2 66.80,595.8 67.20,601.0 67.60,598.6 68.00,604.1 68.40,596.7 68.80,605.9 69.20,598.7 69.60,609.3 70.00,600.6 70.40,610.5 70.80,599.2 71.20,607.5 71.60,601.5 72.00,607.4 72.40,601.6 72.80,606.6 73.20,599.6 73.60,609.0 74.00,602.8 74.40,610.3 74.80,603.1 75.20,609.9 75.60,602.9 76.00,609.9 76.40,604.4 76.80,611.8 77.20,602.6 77.60,609.7 78.00,604.8 78.40,614.7 78.80,605.2 79.20,609.8 79.60,602.7 80.00,611.0 80.40,602.4 80.80,609.6 81.20,603.3 81.60,612.9 82.00,603.5 82.40,610.8 82.80,602.4 83.20,611.2 83.60,607.4 84.00,611.6 84.40,604.1 84.80,612.2 85.20,604.0 85.60,613.2 86.00,603.6 86.40,611.6 86.80,601.3 87.20,608.3 87.60,606.8 88.00,611.8 88.40,606.5 88.80,608.6 89.20,606.0 89.60,611.7 90.00,607.9 90.40,613.4 90.80,601.9 91.20,614.2 91.60,605.3 92.00,612.8 92.40,606.6 92.80,612.9 93.20,605.7 93.60,612.7 94.00,604.2 94.40,613.3 94.80,606.3 95.20,617.7 95.60,610.6 96.00,609.0 96.40,603.8 96.80,611.2 97.20,603.5 97.60,612.1 98.00,603.0 98.40,612.6 98.80,597.3 99.20,606.7 99.60,594.6 100.00,608.4 100.40,597.9 100.80,612.7 101.20,602.4 101.60,612.3 102.00,602.2 102.40,610.5 102.80,601.7 103.20,608.9 103.60,603.2 104.00,610.4 104.40,602.6 104.80,609.0 105.20,599.0 105.60,608.9 106.00,607.1 106.40,618.3 106.80,607.5 107.20,610.8 107.60,600.7 108.00,609.3 108.40,604.6 108.80,607.9 109.20,602.9 109.60,611.2 110.00,606.0 110.40,610.8 110.80,603.7 111.20,611.8 111.60,602.3 112.00,609.5 112.40,604.4 112.80,610.9 113.20,602.2 113.60,615.8 114.00,605.3 114.40,613.0 114.80,602.4 115.20,610.6 115.60,603.9 116.00,615.0 116.40,608.7 116.80,614.5 117.20,609.7 117.60,617.9 118.00,611.1 118.40,619.1 118.80,611.2 119.20,618.5 119.60,611.4 120.00,618.0 120.40,612.5 120.80,622.0 121.20,614.9 121.60,620.5 122.00,614.7 122.40,622.8 122.80,616.1 123.20,622.7 123.60,616.4 124.00,623.6 124.40,619.7 124.80,624.8 125.20,616.4 125.60,620.7 126.00,620.6 126.40,626.2 126.80,621.2 127.20,626.2 127.60,623.5 128.00,626.9 128.40,621.8 128.80,630.2 129.20,622.1 129.60,631.0 130.00,623.8 130.40,631.5 130.80,627.1 131.20,631.5 131.60,626.4 132.00,631.0 132.40,626.9 132.80,632.8 133.20,626.2 133.60,630.7 134.00,626.9 134.40,633.4 134.80,629.6 135.20,634.0 135.60,630.3 136.00,632.4 136.40,631.1 136.80,635.3 137.20,629.5 137.60,635.5 138.00,631.3 138.40,635.5 138.80,631.2 139.20,637.6 139.60,633.2 140.00,636.7 140.40,631.8 140.80,638.4 141.20,633.9 141.60,637.8 142.00,633.9 142.40,640.0 142.80,632.6 143.20,638.2 143.60,634.5 144.00,640.5 144.40,632.5 144.80,640.9 145.20,633.3 145.60,637.9 146.00,636.6 146.40,640.8 146.80,635.5 147.20,640.6 147.60,636.4 148.00,640.4 148.40,635.6 148.80,641.6 149.20,637.1 149.60,643.0 150.00,637.6 150.40,644.2 150.80,636.7 151.20,641.9 151.60,638.7 152.00,642.7 152.40,637.3 152.80,642.3 153.20,637.3 153.60,646.2 154.00,640.1 154.40,642.7 154.80,639.2 155.20,643.1 155.60,638.9 156.00,646.1 156.40,641.5 156.80,642.6 157.20,638.7 157.60,645.5 158.00,639.6 158.40,645.9 158.80,641.0 159.20,645.0 159.60,639.8 160.00,646.5 160.40,640.7 160.80,647.1 161.20,641.1 161.60,642.7 162.00,641.6 162.40,646.3 162.80,641.0 163.20,648.4 163.60,642.6 164.00,648.4 164.40,642.2 164.80,647.9 165.20,644.9 165.60,647.7 166.00,641.6 166.40,647.7 166.80,642.6 167.20,650.8 167.60,644.9 168.00,649.1 168.40,647.8 168.80,652.2 169.20,647.2 169.60,647.6 170.00,644.2 170.40,648.5 170.80,645.0 171.20,651.6 171.60,646.5 172.00,651.3 172.40,644.1 172.80,652.6 173.20,645.2 173.60,649.5 174.00,645.8 174.40,649.7 174.80,643.6 175.20,647.3 175.60,642.7 176.00,643.1 176.40,639.1 176.80,642.3 177.20,635.6 177.60,638.2 178.00,635.8 178.40,643.7 178.80,637.6 179.20,643.3 179.60,642.4 180.00,649.3 180.40,644.0 180.80,650.3 181.20,648.4 181.60,654.2 182.00,650.2 182.40,655.7 182.80,646.4 183.20,651.8 183.60,646.6 184.00,651.8 184.40,649.1 184.80,653.5 185.20,648.0 185.60,653.3 186.00,647.2 186.40,653.9 186.80,649.1 187.20,653.1 187.60,649.3 188.00,652.6 188.40,650.2 188.80,655.1 189.20,648.3 189.60,653.2 190.00,648.7 190.40,655.6 190.80,650.5 191.20,655.6 191.60,648.1 192.00,655.3 192.40,649.9 192.80,656.5 193.20,651.3 193.60,654.4 194.00,652.4 194.40,656.3 194.80,650.9 195.20,655.7 195.60,653.2 196.00,657.0 196.40,652.4 196.80,656.9 197.20,651.4 197.60,655.9 198.00,654.1 198.40,659.0 198.80,651.9 199.20,655.3 199.60,650.0 200.00,659.6 200.40,650.7 200.80,655.5 201.20,652.0 201.60,657.8 202.00,653.1 202.40,656.1 202.80,652.0 203.20,655.2 203.60,650.1 204.00,655.4 204.40,652.0 204.80,656.3 205.20,650.1 205.60,656.2 206.00,655.6 206.40,659.5 206.80,652.2 207.20,656.9 207.60,651.6 208.00,656.2 208.40,654.2 208.80,659.9 209.20,652.9 209.60,659.7 210.00,657.2 210.40,660.3 210.80,657.6 211.20,658.4 211.60,652.4 212.00,657.3 212.40,655.9 212.80,661.0 213.20,655.0 213.60,660.3 214.00,655.0 214.40,660.4 214.80,657.4 215.20,660.2 215.60,656.2 216.00,660.4 216.40,655.7 216.80,660.3 217.20,654.5 217.60,660.4 218.00,655.3 218.40,660.5 218.80,655.3 219.20,660.4 219.60,654.6 220.00,661.0 220.40,656.5 220.80,659.6 221.20,656.7 221.60,661.2 222.00,658.4 222.40,660.3 222.80,657.2 223.20,660.4 223.60,657.3 224.00,661.5 224.40,655.1 224.80,661.3 225.20,656.7 225.60,659.8 226.00,655.8 226.40,662.0 226.80,654.6 227.20,660.0 227.60,655.2 228.00,662.7 228.40,655.0 228.80,658.3 229.20,652.5 229.60,661.4 230.00,657.2 230.40,661.9 230.80,654.8 231.20,661.1 231.60,656.5 232.00,659.7 232.40,653.8 232.80,660.6 233.20,654.6 233.60,659.7 234.00,655.9 234.40,661.9 234.80,652.9 235.20,658.2 235.60,652.7 236.00,657.8 236.40,653.0 236.80,658.6 237.20,654.4 237.60,657.6 238.00,655.6 238.40,658.5 238.80,654.2 239.20,658.1 239.60,653.0 240.00,660.1 240.40,653.6 240.80,662.6 241.20,655.2 241.60,656.9 242.00,654.6 242.40,655.4 242.80,652.0 243.20,657.2 243.60,653.0 244.00,657.6 244.40,651.9 244.80,657.2 245.20,657.9 245.60,660.2 246.00,654.3 246.40,658.9 246.80,653.8 247.20,658.6 247.60,654.8 248.00,659.8 248.40,655.4 248.80,663.8 249.20,657.0 249.60,659.7 250.00,658.3 250.40,661.4 250.80,658.4 251.20,660.2 251.60,656.5 252.00,660.5 252.40,654.1 252.80,656.9 253.20,656.5 253.60,663.5 254.00,656.4 254.40,662.3 254.80,657.0 255.20,661.8 255.60,655.6 256.00,661.5 256.40,658.1 256.80,660.6 257.20,657.4 257.60,661.3 258.00,658.7 258.40,661.6 258.80,659.0 259.20,662.7 259.60,659.5 260.00,664.6 260.40,660.0 260.80,661.3 261.20,657.9 261.60,662.8 262.00,658.3 262.40,663.1 262.80,658.3 263.20,663.5 263.60,658.5 264.00,663.8 264.40,659.1 264.80,663.1 265.20,658.2 265.60,663.2 266.00,660.8 266.40,667.3 266.80,658.6 267.20,664.7 267.60,659.2 268.00,663.7 268.40,658.3 268.80,663.5 269.20,658.2 269.60,664.1 270.00,658.7 270.40,662.1 270.80,657.6 271.20,660.8 271.60,657.6 272.00,662.9 272.40,657.2 272.80,662.2 273.20,656.9 273.60,662.8 274.00,656.8 274.40,662.0 274.80,659.3 275.20,661.4 275.60,656.9 276.00,661.9 276.40,658.4 276.80,663.3 277.20,658.7 277.60,661.8 278.00,657.2 278.40,661.6 278.80,657.2 279.20,661.4 279.60,658.0 280.00,660.7 280.40,656.9 280.80,660.7 281.20,656.5 281.60,660.2 282.00,656.6 282.40,661.6 282.80,658.7 283.20,663.7 283.60,658.1 284.00,663.0 284.40,657.5 284.80,661.7 285.20,658.8 285.60,662.9 286.00,659.4 286.40,662.7 286.80,658.9 287.20,664.7 287.60,659.8 288.00,661.7 288.40,656.5 288.80,660.8 289.20,657.2 289.60,661.2 290.00,656.6 290.40,661.8 290.80,656.5 291.20,661.1 291.60,656.3 292.00,660.8 292.40,656.2 292.80,660.1 293.20,655.5 293.60,658.7 294.00,656.4 294.40,659.5 294.80,654.7 295.20,659.8 295.60,655.4 296.00,657.2 296.40,650.9 296.80,655.5 297.20,649.8 297.60,654.1 298.00,647.2 298.40,651.7 298.80,650.2 299.20,652.0 299.60,649.5 300.00,655.1 300.40,651.3 300.80,656.9 301.20,652.4 301.60,656.8 302.00,653.0 302.40,658.1 302.80,655.0 303.20,658.4 303.60,654.1 304.00,658.3 304.40,653.6 304.80,658.5 305.20,653.5 305.60,659.9 306.00,655.6 306.40,657.5 306.80,654.2 307.20,659.1 307.60,654.4 308.00,660.4 308.40,655.1 308.80,659.8 309.20,655.0 309.60,658.3 310.00,654.4 310.40,659.4 310.80,654.1 311.20,660.2 311.60,654.7 312.00,660.4 312.40,657.0 312.80,660.0 313.20,656.4 313.60,660.9 314.00,657.1 314.40,660.8 314.80,657.0 315.20,659.1 315.60,656.4 316.00,661.4 316.40,656.5 316.80,661.5 317.20,656.3 317.60,661.4 318.00,657.3 318.40,660.7 318.80,656.5 319.20,661.1 319.60,657.5 320.00,660.6 320.40,656.4 320.80,662.1 321.20,656.1 321.60,660.0 322.00,654.5 322.40,656.2 322.80,655.4 323.20,660.6 323.60,655.8 324.00,662.2 324.40,654.9 324.80,657.0 325.20,652.3 325.60,662.0 326.00,657.8 326.40,663.3 326.80,658.3 327.20,663.0 327.60,660.2 328.00,663.0 328.40,659.7 328.80,663.1 329.20,658.4 329.60,663.2 330.00,656.5 330.40,662.8 330.80,659.8 331.20,664.4 331.60,658.1 332.00,663.3 332.40,658.9 332.80,662.7 333.20,659.7 333.60,663.4 334.00,660.4 334.40,664.2 334.80,659.6 335.20,662.6 335.60,659.0 336.00,663.1 336.40,660.5 336.80,665.5 337.20,656.9 337.60,661.3 338.00,657.7 338.40,664.8 338.80,659.0 339.20,663.2 339.60,659.7 340.00,664.6 340.40,661.1 340.80,664.0 341.20,660.6 341.60,665.4 342.00,660.7 342.40,665.2 342.80,660.5 343.20,664.8 343.60,661.4 344.00,663.9 344.40,659.9 344.80,663.2 345.20,660.6 345.60,663.6 346.00,658.4 346.40,663.3 346.80,659.4 347.20,664.0 347.60,660.0 348.00,664.7 348.40,658.5 348.80,662.4 349.20,657.9 349.60,663.6 350.00,658.5 350.40,663.4 350.80,657.5 351.20,664.5 351.60,657.6 352.00,663.0 352.40,657.8 352.80,661.6 353.20,657.9 353.60,663.3 354.00,657.2 354.40,661.5 354.80,656.5 355.20,662.5 355.60,657.0 356.00,660.2 356.40,656.8 356.80,660.6 357.20,658.3 357.60,661.3 358.00,653.0 358.40,658.2 358.80,655.6 359.20,662.5 359.60,657.2 360.00,661.6 360.40,658.9 360.80,661.5 361.20,656.6 361.60,664.0 362.00,660.3 362.40,663.4 362.80,658.6 363.20,663.6 363.60,660.1 364.00,663.5 364.40,660.6 364.80,663.0 365.20,659.0 365.60,664.7 366.00,659.7 366.40,664.9 366.80,661.4 367.20,663.7 367.60,659.2 368.00,664.3 368.40,657.8 368.80,661.8 369.20,660.8 369.60,665.4 370.00,659.8 370.40,663.9 370.80,661.1 371.20,666.3 371.60,659.7 372.00,664.2 372.40,660.4 372.80,664.6 373.20,660.8 373.60,662.7 374.00,660.8 374.40,665.6 374.80,659.7 375.20,665.6 375.60,662.0 376.00,663.5 376.40,662.0 376.80,665.2 377.20,660.2 377.60,664.4 378.00,660.8 378.40,663.7 378.80,662.3 379.20,664.8 379.60,661.8 380.00,663.9 380.40,662.5 380.80,665.1 381.20,662.2 381.60,664.6 382.00,661.6 382.40,665.9 382.80,661.2 383.20,666.8 383.60,660.8 384.00,665.7 384.40,660.6 384.80,666.1 385.20,662.3 385.60,666.0 386.00,660.8 386.40,664.0 386.80,660.7 387.20,665.7 387.60,661.4 388.00,665.9 388.40,662.4 388.80,664.1 389.20,661.8 389.60,666.1 390.00,660.6 390.40,665.4 390.80,661.8 391.20,665.0 391.60,660.1 392.00,664.7 392.40,661.8 392.80,665.7 393.20,660.7 393.60,665.6 394.00,660.2 394.40,665.6 394.80,662.1 395.20,663.5 395.60,660.3 396.00,665.0 396.40,661.0 396.80,665.5 397.20,660.1 397.60,666.2 398.00,660.6 398.40,665.8 398.80,661.5 399.20,665.6 399.60,661.9 400.00,665.5 400.40,660.1 400.80,665.6 401.20,660.9 401.60,664.7 402.00,661.9 402.40,665.0 402.80,661.7 403.20,666.0 403.60,657.9 404.00,662.9 404.40,660.2 404.80,664.1 405.20,661.1 405.60,665.8 406.00,661.0 406.40,665.4 406.80,662.5 407.20,667.0 407.60,661.2 408.00,666.1 408.40,662.0 408.80,665.0 409.20,661.3 409.60,665.8 410.00,661.2 410.40,666.5 410.80,661.4 411.20,666.7 411.60,662.2 412.00,666.3 412.40,661.8 412.80,664.7 413.20,663.1 413.60,666.0 414.00,662.4 414.40,666.9 414.80,661.3 415.20,666.1 415.60,664.5 416.00,668.2 416.40,661.9 416.80,665.1 417.20,662.0 417.60,665.2 418.00,661.8 418.40,665.0 418.80,659.8 419.20,668.9 419.60,662.0 420.00,668.8 420.40,662.2 420.80,665.7 421.20,662.2 421.60,664.9 422.00,662.0 422.40,665.7 422.80,665.1 423.20,666.7 423.60,664.7 424.00,665.3 424.40,661.4 424.80,664.1 425.20,661.6 425.60,665.9 426.00,659.6 426.40,665.8 426.80,661.0 427.20,665.0 427.60,661.7 428.00,667.2 428.40,664.5 428.80,668.3 429.20,661.8 429.60,666.6 430.00,661.4 430.40,668.8 430.80,665.7 431.20,667.7 431.60,661.4 432.00,665.7 432.40,663.4 432.80,667.7 433.20,662.7 433.60,667.9 434.00,663.6 434.40,664.3 434.80,660.5 435.20,666.9 435.60,663.3 436.00,668.0 436.40,662.5 436.80,664.8 437.20,661.3 437.60,665.9 438.00,661.8 438.40,666.8 438.80,662.7 439.20,665.8 439.60,662.2 440.00,666.7 440.40,663.3 440.80,667.1 441.20,661.7 441.60,664.9 442.00,661.9 442.40,666.4 442.80,660.7 443.20,666.4 443.60,660.7 444.00,665.5 444.40,658.7 444.80,661.6 445.20,658.8 445.60,665.8 446.00,660.5 446.40,665.6 446.80,662.5 447.20,666.1 447.60,661.3 448.00,666.7 448.40,661.6 448.80,666.3 449.20,661.4 449.60,668.2 450.00,661.2 450.40,666.5 450.80,663.3 451.20,666.7 451.60,658.5 452.00,663.6 452.40,661.0 452.80,664.2 453.20,662.4 453.60,665.3 454.00,661.8 454.40,665.7 454.80,663.0 455.20,667.7 455.60,663.4 456.00,666.7 456.40,661.3 456.80,665.9 457.20,663.1 457.60,665.9 458.00,662.7 458.40,666.1 458.80,659.9 459.20,664.5 459.60,656.3 460.00,666.5 460.40,662.7 460.80,667.1 461.20,661.0 461.60,666.7 462.00,662.0 462.40,665.5 462.80,660.7 463.20,668.5 463.60,664.6 464.00,667.8 464.40,662.4 464.80,667.7 465.20,662.8 465.60,666.8 466.00,662.7 466.40,668.2 466.80,663.7 467.20,666.1 467.60,662.8 468.00,665.6 468.40,663.2 468.80,665.6 469.20,661.4 469.60,667.9 470.00,663.3 470.40,665.8 470.80,663.2 471.20,668.1 471.60,662.6 472.00,664.9 472.40,662.2 472.80,666.9 473.20,662.1 473.60,667.0 474.00,663.5 474.40,667.1 474.80,661.6 475.20,665.8 475.60,664.2 476.00,663.0 476.40,661.1 476.80,664.8 477.20,663.2 477.60,666.3 478.00,662.9 478.40,666.5 478.80,662.5 479.20,667.1 479.60,662.0 480.00,665.4 480.40,661.8 480.80,665.7 481.20,660.2 481.60,666.8 482.00,662.1 482.40,666.5 482.80,663.2 483.20,665.3 483.60,662.5 484.00,666.5 484.40,663.4 484.80,666.7 485.20,662.0 485.60,665.7 486.00,663.6 486.40,664.9 486.80,661.3 487.20,665.3 487.60,662.3 488.00,662.5 488.40,659.7 488.80,666.0 489.20,662.3 489.60,666.6 490.00,659.5 490.40,664.0 490.80,660.4 491.20,666.2 491.60,662.7 492.00,666.6 492.40,660.6 492.80,665.3 493.20,660.7 493.60,666.1 494.00,662.5 494.40,666.0 494.80,663.9 495.20,665.9 495.60,662.1 496.00,666.3 496.40,662.2 496.80,666.4 497.20,663.0 497.60,668.1 498.00,665.0 498.40,667.5 498.80,662.1 499.20,666.7 499.60,663.3 500.00,666.3 500.40,662.4 500.80,665.3 501.20,662.4 501.60,668.1 502.00,665.3 502.40,666.1 502.80,662.2 503.20,667.4 503.60,663.6 504.00,666.0 504.40,661.7 504.80,667.0" fill="none" stroke="#000000" stroke-width="1.8" stroke-linejoin="round"/>
<path d="M45.1,1.9000000000000001 V676.1 M44.1,675.1 H506.3" stroke="#000" stroke-width="2" fill="none"/>
<path d="M45.1,2.7 H505.5 V675.1" stroke="#000" stroke-width="1.6" fill="none"/>
<line x1="45.1" y1="675.1" x2="45.1" y2="684.5" stroke="#000" stroke-width="2"/><line x1="102.7" y1="675.1" x2="102.7" y2="684.5" stroke="#000" stroke-width="2"/><line x1="160.2" y1="675.1" x2="160.2" y2="684.5" stroke="#000" stroke-width="2"/><line x1="217.8" y1="675.1" x2="217.8" y2="684.5" stroke="#000" stroke-width="2"/><line x1="275.3" y1="675.1" x2="275.3" y2="684.5" stroke="#000" stroke-width="2"/><line x1="332.9" y1="675.1" x2="332.9" y2="684.5" stroke="#000" stroke-width="2"/><line x1="390.4" y1="675.1" x2="390.4" y2="684.5" stroke="#000" stroke-width="2"/><line x1="448.0" y1="675.1" x2="448.0" y2="684.5" stroke="#000" stroke-width="2"/><line x1="505.5" y1="675.1" x2="505.5" y2="684.5" stroke="#000" stroke-width="2"/>
<circle cx="147.8" cy="143.9" r="3.4"/><circle cx="198.7" cy="184.6" r="3.4"/><circle cx="215.8" cy="184.6" r="3.4"/><circle cx="235" cy="188.1" r="3.4"/><circle cx="276" cy="185.8" r="3.4"/><circle cx="304.3" cy="174.6" r="3.4"/><circle cx="324.3" cy="182.3" r="3.4"/><circle cx="362.7" cy="189.9" r="3.4"/><circle cx="393.2" cy="191.1" r="3.4"/><circle cx="144.4" cy="267.8" r="3.4"/><circle cx="218.5" cy="293.5" r="3.4"/><circle cx="307.5" cy="287.9" r="3.4"/><circle cx="436.7" cy="161.2" r="4.4"/>
<line x1="369" y1="20.8" x2="427" y2="20.8" stroke="#7d008c" stroke-width="2.2"/><line x1="385.6" y1="125.3" x2="443.8" y2="125.3" stroke="#0a800a" stroke-width="2.2"/><line x1="381.8" y1="237.8" x2="440" y2="237.8" stroke="#ff8000" stroke-width="2.2"/><line x1="371.9" y1="352.8" x2="430.8" y2="352.8" stroke="#0000a8" stroke-width="2.2"/><line x1="375.3" y1="469.4" x2="433.1" y2="469.4" stroke="#ff0000" stroke-width="2.2"/><line x1="376.6" y1="592.7" x2="434.8" y2="592.7" stroke="#000000" stroke-width="2.2"/>
<text transform="translate(111.25,39.85) rotate(-90)" font-size="19" font-weight="bold">001</text><text class="at" transform="translate(112.92,65.33) rotate(-90)" font-size="21" font-weight="normal">@</text><text transform="translate(137.95,46.40) rotate(-90)" font-size="19" font-weight="bold">201</text><text class="at" transform="translate(139.32,74.12) rotate(-90)" font-size="21" font-weight="normal">@</text><text transform="translate(171.95,59.03) rotate(-90)" font-size="19" font-weight="bold">301</text><text class="at" transform="translate(173.28,84.33) rotate(-90)" font-size="21" font-weight="normal">@</text><text transform="translate(192.45,60.92) rotate(-90)" font-size="19" font-weight="bold">111</text><text class="at" transform="translate(193.78,87.38) rotate(-90)" font-size="21" font-weight="normal">@</text><text transform="translate(253.15,61.77) rotate(-90)" font-size="19" font-weight="bold">411</text><text class="at" transform="translate(254.93,88.28) rotate(-90)" font-size="21" font-weight="normal">@</text><text transform="translate(279.12,65.10) rotate(-90)" font-size="19" font-weight="bold">112</text><text class="at" transform="translate(280.52,92.82) rotate(-90)" font-size="21" font-weight="normal">@</text><text transform="translate(152.55,133.38) rotate(-90)" font-size="19" font-weight="bold">011</text><text transform="translate(204.30,174.22) rotate(-90)" font-size="19" font-weight="bold">200</text><text transform="translate(221.65,173.68) rotate(-90)" font-size="19" font-weight="bold">020</text><text transform="translate(239.80,177.72) rotate(-90)" font-size="19" font-weight="bold">210</text><text transform="translate(282.38,175.68) rotate(-90)" font-size="19" font-weight="bold">-221</text><text transform="translate(309.60,163.12) rotate(-90)" font-size="19" font-weight="bold">220</text><text transform="translate(330.00,170.88) rotate(-90)" font-size="19" font-weight="bold">022</text><text transform="translate(367.75,179.00) rotate(-90)" font-size="19" font-weight="bold">031</text><text transform="translate(398.60,180.07) rotate(-90)" font-size="19" font-weight="bold">-231</text><text transform="translate(149.80,256.93) rotate(-90)" font-size="19" font-weight="bold">011</text><text transform="translate(223.90,282.58) rotate(-90)" font-size="19" font-weight="bold">020</text><text transform="translate(313.40,276.73) rotate(-90)" font-size="19" font-weight="bold">220</text><text transform="translate(183.45,408.55) rotate(-90)" font-size="19" font-weight="bold"><tspan font-size="15" dy="-3">*</tspan><tspan dy="3" dx="2.4">104</tspan></text><text transform="translate(225.95,425.35) rotate(-90)" font-size="19" font-weight="bold"><tspan font-size="15" dy="-3">*</tspan><tspan dy="3" dx="2.4">006</tspan></text><text transform="translate(306.70,413.55) rotate(-90)" font-size="19" font-weight="bold"><tspan font-size="15" dy="-3">*</tspan><tspan dy="3" dx="2.4">116</tspan></text><text transform="translate(328.30,426.73) rotate(-90)" font-size="19" font-weight="bold">#303</text><text transform="translate(188.00,499.40) rotate(-90)" font-size="19" font-weight="bold"><tspan font-size="15" dy="-3">*</tspan><tspan dy="3" dx="2.4">104</tspan></text><text transform="translate(309.75,505.20) rotate(-90)" font-size="19" font-weight="bold"><tspan font-size="15" dy="-3">*</tspan><tspan dy="3" dx="2.4">116</tspan></text><text transform="translate(187.90,626.45) rotate(-90)" font-size="19" font-weight="bold"><tspan font-size="15" dy="-3">*</tspan><tspan dy="3" dx="2.4">104</tspan></text><text transform="translate(310.90,640.95) rotate(-90)" font-size="19" font-weight="bold"><tspan font-size="15" dy="-3">*</tspan><tspan dy="3" dx="2.4">116</tspan></text><text x="434.83" y="28.75" font-size="25.5" font-weight="bold">V-100</text><text x="450.68" y="133.40" font-size="25.5" font-weight="bold">V-50</text><text x="446.82" y="245.30" font-size="25.5" font-weight="bold">V-10</text><text x="437.17" y="361.10" font-size="25.5" font-weight="bold">V-1.0</text><text x="440.90" y="476.90" font-size="25.5" font-weight="bold">V-0.5</text><text x="440.85" y="601.45" font-size="25.5" font-weight="bold">V-0.1</text><text class="at" x="404.92" y="62.85" font-size="28" font-weight="normal">@</text><text x="437.90" y="60.50" font-size="25.5" font-weight="bold">V</text><text x="455.15" y="69.75" font-size="14.5" font-weight="bold">2</text><text x="464.17" y="60.75" font-size="25.5" font-weight="bold">O</text><text x="483.83" y="69.75" font-size="14.5" font-weight="bold">5</text><text x="450.80" y="167.55" font-size="25.5" font-weight="bold">V</text><text x="467.18" y="167.50" font-size="25.5" font-weight="bold">O</text><text x="487.30" y="176.70" font-size="14.5" font-weight="bold">2</text><text x="401.23" y="392.05" font-size="25.5" font-weight="bold">*</text><text x="410.55" y="393.05" font-size="25.5" font-weight="bold">/</text><text x="418.52" y="392.12" font-size="25.5" font-weight="bold">#</text><text x="439.35" y="392.25" font-size="25.5" font-weight="bold">V</text><text x="457.10" y="402.80" font-size="14.5" font-weight="bold">2</text><text x="465.02" y="392.25" font-size="25.5" font-weight="bold">O</text><text x="485.70" y="402.68" font-size="14.5" font-weight="bold">3</text><text x="31.48" y="711.05" font-size="24" font-weight="bold">10</text><text x="89.40" y="711.05" font-size="24" font-weight="bold">20</text><text x="147.07" y="711.05" font-size="24" font-weight="bold">30</text><text x="204.75" y="711.05" font-size="24" font-weight="bold">40</text><text x="262.05" y="711.05" font-size="24" font-weight="bold">50</text><text x="319.48" y="711.05" font-size="24" font-weight="bold">60</text><text x="377.03" y="711.05" font-size="24" font-weight="bold">70</text><text x="434.70" y="711.05" font-size="24" font-weight="bold">80</text><text x="492.25" y="711.05" font-size="24" font-weight="bold">90</text><text transform="translate(21.50,376.43) rotate(-90)" font-size="27" font-weight="bold">Intensity (a.u.)</text><text x="244.82" y="745.38" font-size="24" font-weight="bold">2</text><text transform="translate(257.50,745.55) scale(1.2,1)" font-size="24" font-weight="normal">θ</text><text x="278.88" y="746.73" font-size="24" font-weight="normal">(</text><text x="288.12" y="734.25" font-size="14" font-weight="normal">o</text><text x="300.38" y="746.73" font-size="24" font-weight="normal">)</text>
</svg>
</body></html>
